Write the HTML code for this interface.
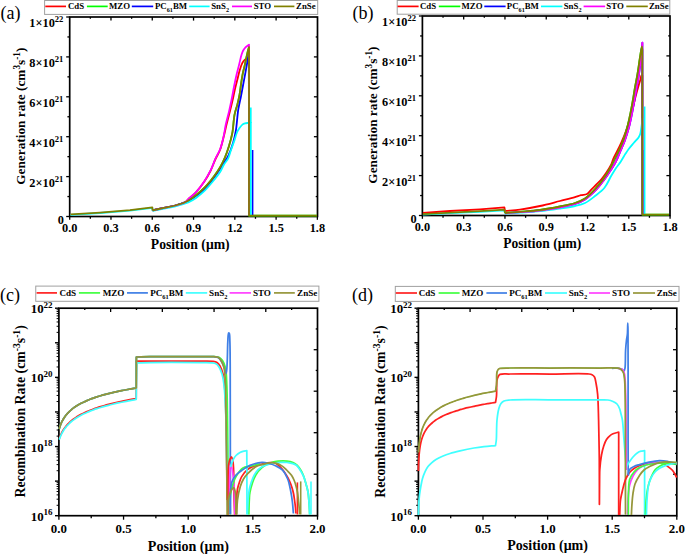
<!DOCTYPE html>
<html><head><meta charset="utf-8"><title>Generation and Recombination Rate</title>
<style>
html,body{margin:0;padding:0;background:#fff;width:685px;height:554px;overflow:hidden}
svg{display:block}
text{font-family:"Liberation Serif", serif}
</style></head><body>
<svg width="685" height="554" viewBox="0 0 685 554" font-family='"Liberation Serif", serif'>
<rect width="685" height="554" fill="#fff"/>
<line x1="69.70" y1="216.50" x2="69.70" y2="219.80" stroke="#000" stroke-width="1.3"/>
<line x1="90.34" y1="216.50" x2="90.34" y2="218.80" stroke="#000" stroke-width="1.3"/>
<line x1="90.34" y1="17.00" x2="90.34" y2="18.80" stroke="#000" stroke-width="1.3"/>
<line x1="110.98" y1="216.50" x2="110.98" y2="219.80" stroke="#000" stroke-width="1.3"/>
<line x1="110.98" y1="17.00" x2="110.98" y2="20.60" stroke="#000" stroke-width="1.3"/>
<line x1="131.62" y1="216.50" x2="131.62" y2="218.80" stroke="#000" stroke-width="1.3"/>
<line x1="131.62" y1="17.00" x2="131.62" y2="18.80" stroke="#000" stroke-width="1.3"/>
<line x1="152.26" y1="216.50" x2="152.26" y2="219.80" stroke="#000" stroke-width="1.3"/>
<line x1="152.26" y1="17.00" x2="152.26" y2="20.60" stroke="#000" stroke-width="1.3"/>
<line x1="172.90" y1="216.50" x2="172.90" y2="218.80" stroke="#000" stroke-width="1.3"/>
<line x1="172.90" y1="17.00" x2="172.90" y2="18.80" stroke="#000" stroke-width="1.3"/>
<line x1="193.54" y1="216.50" x2="193.54" y2="219.80" stroke="#000" stroke-width="1.3"/>
<line x1="193.54" y1="17.00" x2="193.54" y2="20.60" stroke="#000" stroke-width="1.3"/>
<line x1="214.18" y1="216.50" x2="214.18" y2="218.80" stroke="#000" stroke-width="1.3"/>
<line x1="214.18" y1="17.00" x2="214.18" y2="18.80" stroke="#000" stroke-width="1.3"/>
<line x1="234.82" y1="216.50" x2="234.82" y2="219.80" stroke="#000" stroke-width="1.3"/>
<line x1="234.82" y1="17.00" x2="234.82" y2="20.60" stroke="#000" stroke-width="1.3"/>
<line x1="255.46" y1="216.50" x2="255.46" y2="218.80" stroke="#000" stroke-width="1.3"/>
<line x1="255.46" y1="17.00" x2="255.46" y2="18.80" stroke="#000" stroke-width="1.3"/>
<line x1="276.10" y1="216.50" x2="276.10" y2="219.80" stroke="#000" stroke-width="1.3"/>
<line x1="276.10" y1="17.00" x2="276.10" y2="20.60" stroke="#000" stroke-width="1.3"/>
<line x1="296.74" y1="216.50" x2="296.74" y2="218.80" stroke="#000" stroke-width="1.3"/>
<line x1="296.74" y1="17.00" x2="296.74" y2="18.80" stroke="#000" stroke-width="1.3"/>
<line x1="317.38" y1="216.50" x2="317.38" y2="219.80" stroke="#000" stroke-width="1.3"/>
<line x1="69.70" y1="216.50" x2="66.20" y2="216.50" stroke="#000" stroke-width="1.3"/>
<line x1="69.70" y1="196.55" x2="67.40" y2="196.55" stroke="#000" stroke-width="1.3"/>
<line x1="317.50" y1="196.55" x2="315.70" y2="196.55" stroke="#000" stroke-width="1.3"/>
<line x1="69.70" y1="176.60" x2="66.20" y2="176.60" stroke="#000" stroke-width="1.3"/>
<line x1="317.50" y1="176.60" x2="313.90" y2="176.60" stroke="#000" stroke-width="1.3"/>
<line x1="69.70" y1="156.65" x2="67.40" y2="156.65" stroke="#000" stroke-width="1.3"/>
<line x1="317.50" y1="156.65" x2="315.70" y2="156.65" stroke="#000" stroke-width="1.3"/>
<line x1="69.70" y1="136.70" x2="66.20" y2="136.70" stroke="#000" stroke-width="1.3"/>
<line x1="317.50" y1="136.70" x2="313.90" y2="136.70" stroke="#000" stroke-width="1.3"/>
<line x1="69.70" y1="116.75" x2="67.40" y2="116.75" stroke="#000" stroke-width="1.3"/>
<line x1="317.50" y1="116.75" x2="315.70" y2="116.75" stroke="#000" stroke-width="1.3"/>
<line x1="69.70" y1="96.80" x2="66.20" y2="96.80" stroke="#000" stroke-width="1.3"/>
<line x1="317.50" y1="96.80" x2="313.90" y2="96.80" stroke="#000" stroke-width="1.3"/>
<line x1="69.70" y1="76.85" x2="67.40" y2="76.85" stroke="#000" stroke-width="1.3"/>
<line x1="317.50" y1="76.85" x2="315.70" y2="76.85" stroke="#000" stroke-width="1.3"/>
<line x1="69.70" y1="56.90" x2="66.20" y2="56.90" stroke="#000" stroke-width="1.3"/>
<line x1="317.50" y1="56.90" x2="313.90" y2="56.90" stroke="#000" stroke-width="1.3"/>
<line x1="69.70" y1="36.95" x2="67.40" y2="36.95" stroke="#000" stroke-width="1.3"/>
<line x1="317.50" y1="36.95" x2="315.70" y2="36.95" stroke="#000" stroke-width="1.3"/>
<line x1="69.70" y1="17.00" x2="66.20" y2="17.00" stroke="#000" stroke-width="1.3"/>
<rect x="69.70" y="17.00" width="247.80" height="199.50" fill="none" stroke="#000" stroke-width="1.7"/>
<text x="69.70" y="232.40" font-size="12.3" text-anchor="middle" font-weight="bold">0.0</text>
<text x="110.98" y="232.40" font-size="12.3" text-anchor="middle" font-weight="bold">0.3</text>
<text x="152.26" y="232.40" font-size="12.3" text-anchor="middle" font-weight="bold">0.6</text>
<text x="193.54" y="232.40" font-size="12.3" text-anchor="middle" font-weight="bold">0.9</text>
<text x="234.82" y="232.40" font-size="12.3" text-anchor="middle" font-weight="bold">1.2</text>
<text x="276.10" y="232.40" font-size="12.3" text-anchor="middle" font-weight="bold">1.5</text>
<text x="317.38" y="232.40" font-size="12.3" text-anchor="middle" font-weight="bold">1.8</text>
<text x="64.00" y="224.10" font-size="12.3" text-anchor="end" font-weight="bold">0</text>
<text x="63.40" y="186.60" font-size="12.3" text-anchor="end" font-weight="bold">2×10<tspan dy="-4.8" font-size="8.6">21</tspan></text>
<text x="63.40" y="146.70" font-size="12.3" text-anchor="end" font-weight="bold">4×10<tspan dy="-4.8" font-size="8.6">21</tspan></text>
<text x="63.40" y="106.80" font-size="12.3" text-anchor="end" font-weight="bold">6×10<tspan dy="-4.8" font-size="8.6">21</tspan></text>
<text x="63.40" y="66.90" font-size="12.3" text-anchor="end" font-weight="bold">8×10<tspan dy="-4.8" font-size="8.6">21</tspan></text>
<text x="63.40" y="27.00" font-size="12.3" text-anchor="end" font-weight="bold">1×10<tspan dy="-4.8" font-size="8.6">22</tspan></text>
<polyline points="70.50,214.80 100.00,213.00 130.00,210.60 152.30,207.80 152.60,210.80" fill="none" stroke="#00ffff" stroke-width="1.8" stroke-linejoin="round" stroke-linecap="butt"/>
<path d="M152.60,210.30 C156.40,209.50 160.21,208.70 164.00,207.90 C167.78,207.10 171.70,206.47 175.30,205.50 C178.68,204.59 182.73,203.62 185.00,202.30 C186.47,201.44 186.90,200.59 188.20,199.40 C190.27,197.50 193.64,194.78 196.20,192.00 C198.99,188.97 201.79,185.38 204.20,181.80 C206.62,178.21 208.80,174.34 210.70,170.50 C212.56,166.74 213.86,162.57 215.50,159.00 C216.97,155.79 218.72,153.31 220.00,150.00 C221.45,146.24 222.41,141.73 223.50,137.50 C224.61,133.20 225.52,128.78 226.60,124.40 C227.69,119.98 228.98,115.22 230.00,111.10 C230.88,107.53 231.61,104.56 232.40,101.10 C233.25,97.38 234.04,93.22 234.90,89.50 C235.71,86.04 236.56,82.82 237.40,79.50 C238.23,76.19 238.98,72.56 239.90,69.60 C240.67,67.13 241.42,64.69 242.40,62.90 C243.15,61.54 243.97,60.39 244.90,59.60 C245.67,58.95 246.64,58.56 247.40,58.30 C247.98,58.10 248.47,58.10 249.00,58.00 C249.00,110.50 249.00,163.00 249.00,215.50" fill="none" stroke="#ff0000" stroke-width="1.8" stroke-linejoin="round" stroke-linecap="butt"/>
<path d="M152.60,210.30 C156.40,209.50 160.21,208.70 164.00,207.90 C167.78,207.10 171.70,206.47 175.30,205.50 C178.68,204.59 182.00,203.69 185.00,202.30 C187.88,200.97 190.39,199.23 193.00,197.40 C195.73,195.48 198.54,193.20 201.00,191.00 C203.31,188.93 205.32,186.91 207.40,184.60 C209.62,182.13 211.81,179.44 213.90,176.60 C216.12,173.59 218.43,170.27 220.30,167.00 C222.11,163.84 223.58,160.70 225.00,157.30 C226.50,153.72 227.81,149.91 229.00,146.00 C230.25,141.89 231.41,137.91 232.30,133.20 C233.37,127.57 233.55,119.65 234.60,114.40 C235.38,110.51 236.56,107.74 237.40,104.40 C238.23,101.10 238.98,97.95 239.60,94.50 C240.27,90.78 240.62,86.53 241.20,82.80 C241.73,79.36 242.25,76.04 242.90,72.90 C243.50,70.00 244.21,67.60 244.90,64.60 C245.71,61.06 246.62,56.21 247.40,53.00 C247.96,50.70 248.47,49.07 249.00,47.10 C249.00,103.27 249.00,159.43 249.00,215.60 C271.67,215.60 294.33,215.60 317.00,215.60" fill="none" stroke="#00ff00" stroke-width="1.8" stroke-linejoin="round" stroke-linecap="butt"/>
<path d="M152.60,210.30 C156.40,209.50 160.21,208.70 164.00,207.90 C167.78,207.10 171.70,206.47 175.30,205.50 C178.68,204.59 181.98,203.60 185.00,202.30 C187.85,201.07 190.18,199.80 193.00,198.00 C196.50,195.77 200.92,192.70 204.20,189.60 C207.31,186.67 209.69,183.41 212.30,180.00 C215.06,176.40 217.68,172.47 220.30,168.50 C223.02,164.38 226.14,160.09 228.30,155.70 C230.36,151.51 231.83,147.05 233.10,142.80 C234.29,138.82 235.02,135.55 235.80,131.00 C236.85,124.90 237.32,115.47 238.30,109.40 C239.02,104.92 239.91,101.80 240.70,97.80 C241.54,93.52 242.37,88.93 243.20,84.50 C244.03,80.07 244.96,75.31 245.70,71.20 C246.34,67.66 246.86,64.46 247.40,61.30 C247.89,58.41 248.33,55.77 248.80,53.00 C248.93,106.00 249.07,159.00 249.20,212.00" fill="none" stroke="#0000ff" stroke-width="1.8" stroke-linejoin="round" stroke-linecap="butt"/>
<polyline points="252.60,150.00 252.60,215.60" fill="none" stroke="#0000ff" stroke-width="1.6" stroke-linejoin="round" stroke-linecap="butt"/>
<path d="M152.60,210.80 C156.40,210.07 160.21,209.33 164.00,208.60 C167.78,207.87 171.43,207.36 175.30,206.40 C179.48,205.36 184.52,204.09 188.20,202.50 C191.21,201.20 193.44,199.78 196.00,198.00 C198.78,196.06 201.59,193.71 204.20,191.20 C206.93,188.57 209.41,185.60 212.00,182.50 C214.78,179.16 218.20,175.12 220.30,171.80 C221.93,169.22 222.64,166.81 224.00,164.50 C225.32,162.25 227.15,160.44 228.30,158.10 C229.51,155.63 230.01,152.86 231.00,150.00 C232.12,146.74 233.63,142.74 234.70,139.60 C235.58,137.02 236.10,134.56 237.00,132.50 C237.74,130.79 238.56,129.35 239.50,128.00 C240.37,126.74 241.37,125.38 242.40,124.60 C243.23,123.97 244.07,123.68 245.00,123.40 C245.99,123.10 247.19,123.04 248.20,122.90 C249.11,122.78 249.93,122.70 250.80,122.60 C250.80,153.60 250.80,184.60 250.80,215.60" fill="none" stroke="#00ffff" stroke-width="1.8" stroke-linejoin="round" stroke-linecap="butt"/>
<polyline points="250.80,107.50 250.80,123.00" fill="none" stroke="#00ffff" stroke-width="1.7" stroke-linejoin="round" stroke-linecap="butt"/>
<path d="M152.60,210.30 C156.40,209.50 160.21,208.70 164.00,207.90 C167.78,207.10 171.70,206.47 175.30,205.50 C178.68,204.59 182.74,203.67 185.00,202.30 C186.49,201.40 186.88,200.45 188.20,199.20 C190.26,197.25 193.65,194.60 196.20,191.80 C199.00,188.73 201.78,185.02 204.20,181.40 C206.61,177.79 208.80,173.95 210.70,170.10 C212.56,166.32 213.86,162.09 215.50,158.50 C216.97,155.28 218.72,152.81 220.00,149.50 C221.45,145.74 222.53,141.20 223.50,137.00 C224.46,132.83 224.89,128.64 225.80,124.40 C226.74,120.01 228.11,115.39 229.10,111.10 C230.03,107.11 230.79,103.50 231.60,99.50 C232.46,95.22 233.24,90.49 234.10,86.20 C234.91,82.17 235.73,78.23 236.60,74.50 C237.40,71.05 238.27,67.91 239.10,64.60 C239.94,61.28 240.78,57.18 241.60,54.60 C242.14,52.91 242.51,51.76 243.20,50.50 C243.88,49.27 244.73,48.09 245.70,47.10 C246.66,46.12 247.90,45.43 249.00,44.60 C249.00,101.40 249.00,158.20 249.00,215.00" fill="none" stroke="#ff00ff" stroke-width="1.8" stroke-linejoin="round" stroke-linecap="butt"/>
<polyline points="70.50,214.40 100.00,212.60 130.00,210.20 152.30,207.30 152.60,210.30" fill="none" stroke="#808000" stroke-width="1.8" stroke-linejoin="round" stroke-linecap="butt"/>
<path d="M152.60,210.30 C156.40,209.50 160.21,208.70 164.00,207.90 C167.78,207.10 171.70,206.47 175.30,205.50 C178.68,204.59 182.00,203.69 185.00,202.30 C187.88,200.97 190.39,199.23 193.00,197.40 C195.73,195.48 198.54,193.20 201.00,191.00 C203.31,188.93 205.32,186.91 207.40,184.60 C209.62,182.13 211.81,179.44 213.90,176.60 C216.12,173.59 218.43,170.27 220.30,167.00 C222.11,163.84 223.58,160.70 225.00,157.30 C226.50,153.72 227.81,149.91 229.00,146.00 C230.25,141.89 231.41,137.91 232.30,133.20 C233.37,127.57 233.55,119.65 234.60,114.40 C235.38,110.51 236.56,107.74 237.40,104.40 C238.23,101.10 238.98,97.95 239.60,94.50 C240.27,90.78 240.62,86.53 241.20,82.80 C241.73,79.36 242.25,76.04 242.90,72.90 C243.50,70.00 244.21,67.60 244.90,64.60 C245.71,61.06 246.62,56.21 247.40,53.00 C247.96,50.70 248.47,49.07 249.00,47.10 C249.00,103.27 249.00,159.43 249.00,215.60 C271.67,215.60 294.33,215.60 317.00,215.60" fill="none" stroke="#808000" stroke-width="1.8" stroke-linejoin="round" stroke-linecap="butt"/>
<text x="0.50" y="19.00" font-size="18" text-anchor="start" font-weight="normal">(a)</text>
<text x="190.20" y="249.30" font-size="13.7" text-anchor="middle" font-weight="bold">Position (μm)</text>
<text transform="translate(25.10,116.20) rotate(-90)" x="0" y="0" font-size="13.3" text-anchor="middle" font-weight="bold">Generation rate (cm<tspan dy="-4.8" font-size="9.3">3</tspan><tspan dy="4.8">s</tspan><tspan dy="-4.8" font-size="9.3">-1</tspan><tspan dy="4.8">)</tspan></text>
<rect x="44.60" y="0.50" width="273.10" height="13.90" fill="#fff" stroke="#a0a0a0" stroke-width="1"/>
<line x1="45.30" y1="6.40" x2="66.00" y2="6.40" stroke="#ff0000" stroke-width="1.7"/>
<text x="67.90" y="9.30" font-size="8.8" text-anchor="start" font-weight="bold">CdS</text>
<line x1="86.90" y1="6.40" x2="107.70" y2="6.40" stroke="#00ff00" stroke-width="1.7"/>
<text x="109.00" y="9.30" font-size="8.8" text-anchor="start" font-weight="bold">MZO</text>
<line x1="131.80" y1="6.40" x2="153.20" y2="6.40" stroke="#0000ff" stroke-width="1.7"/>
<text x="155.00" y="9.30" font-size="8.8" text-anchor="start" font-weight="bold">PC<tspan dy="2.6" font-size="6.2">61</tspan><tspan dy="-2.6">BM</tspan></text>
<line x1="189.20" y1="6.40" x2="209.60" y2="6.40" stroke="#00ffff" stroke-width="1.7"/>
<text x="211.20" y="9.30" font-size="8.8" text-anchor="start" font-weight="bold">SnS<tspan dy="2.6" font-size="6.2">2</tspan></text>
<line x1="232.00" y1="6.40" x2="252.00" y2="6.40" stroke="#ff00ff" stroke-width="1.7"/>
<text x="253.70" y="9.30" font-size="8.8" text-anchor="start" font-weight="bold">STO</text>
<line x1="274.00" y1="6.40" x2="294.40" y2="6.40" stroke="#808000" stroke-width="1.7"/>
<text x="296.10" y="9.30" font-size="8.8" text-anchor="start" font-weight="bold">ZnSe</text>
<line x1="422.40" y1="215.50" x2="422.40" y2="218.80" stroke="#000" stroke-width="1.3"/>
<line x1="443.04" y1="215.50" x2="443.04" y2="217.80" stroke="#000" stroke-width="1.3"/>
<line x1="443.04" y1="16.00" x2="443.04" y2="17.80" stroke="#000" stroke-width="1.3"/>
<line x1="463.68" y1="215.50" x2="463.68" y2="218.80" stroke="#000" stroke-width="1.3"/>
<line x1="463.68" y1="16.00" x2="463.68" y2="19.60" stroke="#000" stroke-width="1.3"/>
<line x1="484.32" y1="215.50" x2="484.32" y2="217.80" stroke="#000" stroke-width="1.3"/>
<line x1="484.32" y1="16.00" x2="484.32" y2="17.80" stroke="#000" stroke-width="1.3"/>
<line x1="504.96" y1="215.50" x2="504.96" y2="218.80" stroke="#000" stroke-width="1.3"/>
<line x1="504.96" y1="16.00" x2="504.96" y2="19.60" stroke="#000" stroke-width="1.3"/>
<line x1="525.60" y1="215.50" x2="525.60" y2="217.80" stroke="#000" stroke-width="1.3"/>
<line x1="525.60" y1="16.00" x2="525.60" y2="17.80" stroke="#000" stroke-width="1.3"/>
<line x1="546.24" y1="215.50" x2="546.24" y2="218.80" stroke="#000" stroke-width="1.3"/>
<line x1="546.24" y1="16.00" x2="546.24" y2="19.60" stroke="#000" stroke-width="1.3"/>
<line x1="566.88" y1="215.50" x2="566.88" y2="217.80" stroke="#000" stroke-width="1.3"/>
<line x1="566.88" y1="16.00" x2="566.88" y2="17.80" stroke="#000" stroke-width="1.3"/>
<line x1="587.52" y1="215.50" x2="587.52" y2="218.80" stroke="#000" stroke-width="1.3"/>
<line x1="587.52" y1="16.00" x2="587.52" y2="19.60" stroke="#000" stroke-width="1.3"/>
<line x1="608.16" y1="215.50" x2="608.16" y2="217.80" stroke="#000" stroke-width="1.3"/>
<line x1="608.16" y1="16.00" x2="608.16" y2="17.80" stroke="#000" stroke-width="1.3"/>
<line x1="628.80" y1="215.50" x2="628.80" y2="218.80" stroke="#000" stroke-width="1.3"/>
<line x1="628.80" y1="16.00" x2="628.80" y2="19.60" stroke="#000" stroke-width="1.3"/>
<line x1="649.44" y1="215.50" x2="649.44" y2="217.80" stroke="#000" stroke-width="1.3"/>
<line x1="649.44" y1="16.00" x2="649.44" y2="17.80" stroke="#000" stroke-width="1.3"/>
<line x1="670.08" y1="215.50" x2="670.08" y2="218.80" stroke="#000" stroke-width="1.3"/>
<line x1="422.40" y1="215.50" x2="418.90" y2="215.50" stroke="#000" stroke-width="1.3"/>
<line x1="422.40" y1="195.55" x2="420.10" y2="195.55" stroke="#000" stroke-width="1.3"/>
<line x1="670.00" y1="195.55" x2="668.20" y2="195.55" stroke="#000" stroke-width="1.3"/>
<line x1="422.40" y1="175.60" x2="418.90" y2="175.60" stroke="#000" stroke-width="1.3"/>
<line x1="670.00" y1="175.60" x2="666.40" y2="175.60" stroke="#000" stroke-width="1.3"/>
<line x1="422.40" y1="155.65" x2="420.10" y2="155.65" stroke="#000" stroke-width="1.3"/>
<line x1="670.00" y1="155.65" x2="668.20" y2="155.65" stroke="#000" stroke-width="1.3"/>
<line x1="422.40" y1="135.70" x2="418.90" y2="135.70" stroke="#000" stroke-width="1.3"/>
<line x1="670.00" y1="135.70" x2="666.40" y2="135.70" stroke="#000" stroke-width="1.3"/>
<line x1="422.40" y1="115.75" x2="420.10" y2="115.75" stroke="#000" stroke-width="1.3"/>
<line x1="670.00" y1="115.75" x2="668.20" y2="115.75" stroke="#000" stroke-width="1.3"/>
<line x1="422.40" y1="95.80" x2="418.90" y2="95.80" stroke="#000" stroke-width="1.3"/>
<line x1="670.00" y1="95.80" x2="666.40" y2="95.80" stroke="#000" stroke-width="1.3"/>
<line x1="422.40" y1="75.85" x2="420.10" y2="75.85" stroke="#000" stroke-width="1.3"/>
<line x1="670.00" y1="75.85" x2="668.20" y2="75.85" stroke="#000" stroke-width="1.3"/>
<line x1="422.40" y1="55.90" x2="418.90" y2="55.90" stroke="#000" stroke-width="1.3"/>
<line x1="670.00" y1="55.90" x2="666.40" y2="55.90" stroke="#000" stroke-width="1.3"/>
<line x1="422.40" y1="35.95" x2="420.10" y2="35.95" stroke="#000" stroke-width="1.3"/>
<line x1="670.00" y1="35.95" x2="668.20" y2="35.95" stroke="#000" stroke-width="1.3"/>
<line x1="422.40" y1="16.00" x2="418.90" y2="16.00" stroke="#000" stroke-width="1.3"/>
<rect x="422.40" y="16.00" width="247.60" height="199.50" fill="none" stroke="#000" stroke-width="1.7"/>
<text x="422.40" y="231.40" font-size="12.3" text-anchor="middle" font-weight="bold">0.0</text>
<text x="463.68" y="231.40" font-size="12.3" text-anchor="middle" font-weight="bold">0.3</text>
<text x="504.96" y="231.40" font-size="12.3" text-anchor="middle" font-weight="bold">0.6</text>
<text x="546.24" y="231.40" font-size="12.3" text-anchor="middle" font-weight="bold">0.9</text>
<text x="587.52" y="231.40" font-size="12.3" text-anchor="middle" font-weight="bold">1.2</text>
<text x="628.80" y="231.40" font-size="12.3" text-anchor="middle" font-weight="bold">1.5</text>
<text x="670.08" y="231.40" font-size="12.3" text-anchor="middle" font-weight="bold">1.8</text>
<text x="416.70" y="223.10" font-size="12.3" text-anchor="end" font-weight="bold">0</text>
<text x="416.10" y="185.60" font-size="12.3" text-anchor="end" font-weight="bold">2×10<tspan dy="-4.8" font-size="8.6">21</tspan></text>
<text x="416.10" y="145.70" font-size="12.3" text-anchor="end" font-weight="bold">4×10<tspan dy="-4.8" font-size="8.6">21</tspan></text>
<text x="416.10" y="105.80" font-size="12.3" text-anchor="end" font-weight="bold">6×10<tspan dy="-4.8" font-size="8.6">21</tspan></text>
<text x="416.10" y="65.90" font-size="12.3" text-anchor="end" font-weight="bold">8×10<tspan dy="-4.8" font-size="8.6">21</tspan></text>
<text x="416.10" y="26.00" font-size="12.3" text-anchor="end" font-weight="bold">1×10<tspan dy="-4.8" font-size="8.6">22</tspan></text>
<polyline points="422.90,213.00 450.00,211.00 480.00,209.30 504.40,207.40 505.00,211.00" fill="none" stroke="#ff0000" stroke-width="1.8" stroke-linejoin="round" stroke-linecap="butt"/>
<path d="M505.00,211.00 C510.00,210.53 514.66,210.33 520.00,209.60 C526.20,208.75 533.36,207.43 540.00,206.00 C546.69,204.56 553.81,202.56 560.00,201.00 C565.36,199.65 571.14,198.33 575.00,197.20 C577.47,196.48 578.98,195.74 581.00,195.20 C582.98,194.67 585.27,194.95 587.00,194.00 C588.79,193.02 589.96,190.86 591.50,189.30 C593.09,187.70 594.78,186.12 596.40,184.50 C598.02,182.88 599.65,181.40 601.20,179.60 C602.89,177.64 604.52,175.43 606.10,173.10 C607.80,170.59 609.74,167.61 611.00,165.00 C612.08,162.77 612.44,160.68 613.40,158.50 C614.42,156.18 615.75,154.02 617.00,151.50 C618.44,148.59 620.04,145.30 621.50,142.00 C623.05,138.49 624.63,134.78 626.00,131.00 C627.41,127.11 628.63,123.01 629.80,119.00 C630.96,115.01 631.97,111.00 633.00,107.00 C634.03,103.00 635.02,98.71 636.00,95.00 C636.85,91.78 637.72,88.69 638.50,86.00 C639.14,83.79 639.78,81.87 640.30,80.00 C640.76,78.37 640.92,75.85 641.50,75.40 C641.74,75.22 642.03,75.40 642.30,75.40 C642.30,121.87 642.30,168.33 642.30,214.80" fill="none" stroke="#ff0000" stroke-width="1.8" stroke-linejoin="round" stroke-linecap="butt"/>
<path d="M505.00,213.00 C510.00,212.60 514.64,212.26 520.00,211.80 C526.19,211.27 533.35,210.88 540.00,210.00 C546.69,209.12 553.83,207.76 560.00,206.50 C565.38,205.40 570.57,204.50 575.00,203.00 C578.74,201.74 581.74,200.69 585.00,198.50 C588.90,195.88 593.23,191.15 596.40,187.70 C598.98,184.90 600.80,182.48 602.90,179.60 C605.14,176.54 607.49,173.12 609.40,169.80 C611.23,166.62 612.59,163.34 614.20,160.10 C615.82,156.84 617.59,153.58 619.10,150.30 C620.58,147.08 621.92,144.10 623.20,140.60 C624.65,136.62 626.01,132.08 627.20,127.60 C628.45,122.90 629.53,117.73 630.50,113.00 C631.41,108.55 632.16,104.27 632.90,100.00 C633.62,95.87 634.17,91.95 634.90,87.80 C635.66,83.46 636.61,79.19 637.40,74.50 C638.28,69.28 639.09,62.93 639.90,57.90 C640.58,53.68 641.51,46.29 641.90,46.30 C642.12,46.31 642.17,48.77 642.30,50.00 C642.30,104.87 642.30,159.73 642.30,214.60 C651.20,214.60 660.10,214.60 669.00,214.60" fill="none" stroke="#00ff00" stroke-width="1.8" stroke-linejoin="round" stroke-linecap="butt"/>
<path d="M505.00,213.30 C510.00,212.93 514.64,212.62 520.00,212.20 C526.19,211.71 533.35,211.28 540.00,210.50 C546.68,209.72 553.83,208.68 560.00,207.50 C565.38,206.47 570.57,205.50 575.00,204.00 C578.74,202.74 581.71,201.61 585.00,199.50 C588.86,197.01 593.11,192.94 596.40,189.50 C599.34,186.42 601.58,183.27 604.00,180.00 C606.44,176.70 608.92,173.03 611.00,169.80 C612.82,166.97 614.38,164.69 615.90,161.70 C617.64,158.28 619.16,153.95 620.70,150.30 C622.12,146.94 623.51,144.10 624.80,140.60 C626.27,136.62 627.70,132.09 628.90,127.60 C630.15,122.90 631.14,117.73 632.10,113.00 C633.00,108.55 633.74,104.25 634.50,100.00 C635.23,95.92 635.88,92.15 636.60,88.00 C637.38,83.51 638.32,78.68 639.00,74.00 C639.68,69.34 640.16,64.92 640.70,60.00 C641.30,54.54 641.83,48.47 642.40,42.70 C642.40,100.07 642.40,157.43 642.40,214.80" fill="none" stroke="#0000ff" stroke-width="1.8" stroke-linejoin="round" stroke-linecap="butt"/>
<polyline points="644.30,150.00 644.30,214.80" fill="none" stroke="#0000ff" stroke-width="1.4" stroke-linejoin="round" stroke-linecap="butt"/>
<polyline points="422.90,214.60 450.00,213.20 480.00,211.80 504.40,210.40 505.00,213.60" fill="none" stroke="#00ffff" stroke-width="1.8" stroke-linejoin="round" stroke-linecap="butt"/>
<path d="M505.00,213.60 C510.00,213.27 514.64,212.97 520.00,212.60 C526.19,212.18 533.34,211.88 540.00,211.20 C546.68,210.52 553.82,209.43 560.00,208.50 C565.37,207.69 570.53,207.04 575.00,206.00 C578.70,205.14 581.79,204.56 585.00,203.00 C588.47,201.32 591.77,198.53 595.00,196.00 C598.28,193.43 601.85,190.94 604.50,187.70 C607.20,184.39 608.97,179.76 611.00,176.30 C612.73,173.36 614.22,170.72 615.90,168.20 C617.46,165.88 619.14,164.02 620.70,161.70 C622.38,159.18 624.10,155.95 625.60,153.60 C626.78,151.75 627.65,150.36 628.90,148.70 C630.31,146.83 632.08,144.88 633.70,143.00 C635.32,141.12 637.48,139.09 638.60,137.40 C639.39,136.21 639.75,135.53 640.20,134.10 C640.94,131.76 641.38,127.30 641.80,124.40 C642.14,122.05 642.33,120.13 642.60,118.00" fill="none" stroke="#00ffff" stroke-width="1.8" stroke-linejoin="round" stroke-linecap="butt"/>
<polyline points="644.60,106.50 644.60,214.80" fill="none" stroke="#00ffff" stroke-width="1.7" stroke-linejoin="round" stroke-linecap="butt"/>
<path d="M505.00,213.30 C510.00,212.93 514.64,212.62 520.00,212.20 C526.19,211.71 533.35,211.28 540.00,210.50 C546.68,209.72 553.83,208.68 560.00,207.50 C565.38,206.47 570.57,205.50 575.00,204.00 C578.74,202.74 581.71,201.61 585.00,199.50 C588.86,197.01 593.11,192.94 596.40,189.50 C599.34,186.42 601.58,183.27 604.00,180.00 C606.44,176.70 608.92,173.03 611.00,169.80 C612.82,166.97 614.38,164.69 615.90,161.70 C617.64,158.28 619.16,153.95 620.70,150.30 C622.12,146.94 623.51,144.10 624.80,140.60 C626.27,136.62 627.70,132.09 628.90,127.60 C630.15,122.90 631.14,117.73 632.10,113.00 C633.00,108.55 633.74,104.25 634.50,100.00 C635.23,95.92 635.88,92.15 636.60,88.00 C637.38,83.51 638.32,78.68 639.00,74.00 C639.68,69.34 640.16,64.92 640.70,60.00 C641.30,54.54 641.83,48.47 642.40,42.70 C642.40,100.07 642.40,157.43 642.40,214.80" fill="none" stroke="#ff00ff" stroke-width="1.8" stroke-linejoin="round" stroke-linecap="butt"/>
<polyline points="422.90,214.20 450.00,212.60 480.00,211.20 504.40,209.60 505.00,213.00" fill="none" stroke="#808000" stroke-width="1.8" stroke-linejoin="round" stroke-linecap="butt"/>
<path d="M505.00,213.00 C510.00,212.60 514.64,212.26 520.00,211.80 C526.19,211.27 533.35,210.88 540.00,210.00 C546.69,209.12 553.83,207.76 560.00,206.50 C565.38,205.40 570.57,204.50 575.00,203.00 C578.74,201.74 581.74,200.69 585.00,198.50 C588.90,195.88 593.23,191.15 596.40,187.70 C598.98,184.90 600.80,182.48 602.90,179.60 C605.14,176.54 607.49,173.12 609.40,169.80 C611.23,166.62 612.59,163.34 614.20,160.10 C615.82,156.84 617.59,153.58 619.10,150.30 C620.58,147.08 621.92,144.10 623.20,140.60 C624.65,136.62 626.01,132.08 627.20,127.60 C628.45,122.90 629.53,117.73 630.50,113.00 C631.41,108.55 632.16,104.27 632.90,100.00 C633.62,95.87 634.17,91.95 634.90,87.80 C635.66,83.46 636.61,79.19 637.40,74.50 C638.28,69.28 639.09,62.93 639.90,57.90 C640.58,53.68 641.51,46.29 641.90,46.30 C642.12,46.31 642.17,48.77 642.30,50.00 C642.30,104.87 642.30,159.73 642.30,214.60 C651.20,214.60 660.10,214.60 669.00,214.60" fill="none" stroke="#808000" stroke-width="1.8" stroke-linejoin="round" stroke-linecap="butt"/>
<text x="352.40" y="19.00" font-size="18" text-anchor="start" font-weight="normal">(b)</text>
<text x="542.20" y="247.70" font-size="13.55" text-anchor="middle" font-weight="bold">Position (μm)</text>
<text transform="translate(377.00,115.10) rotate(-90)" x="0" y="0" font-size="13.3" text-anchor="middle" font-weight="bold">Generation rate (cm<tspan dy="-4.8" font-size="9.3">3</tspan><tspan dy="4.8">s</tspan><tspan dy="-4.8" font-size="9.3">-1</tspan><tspan dy="4.8">)</tspan></text>
<rect x="397.20" y="0.50" width="272.60" height="13.70" fill="#fff" stroke="#a0a0a0" stroke-width="1"/>
<line x1="397.60" y1="6.40" x2="418.60" y2="6.40" stroke="#ff0000" stroke-width="1.7"/>
<text x="419.90" y="9.30" font-size="8.8" text-anchor="start" font-weight="bold">CdS</text>
<line x1="438.80" y1="6.40" x2="460.30" y2="6.40" stroke="#00ff00" stroke-width="1.7"/>
<text x="461.50" y="9.30" font-size="8.8" text-anchor="start" font-weight="bold">MZO</text>
<line x1="484.30" y1="6.40" x2="505.60" y2="6.40" stroke="#0000ff" stroke-width="1.7"/>
<text x="506.80" y="9.30" font-size="8.8" text-anchor="start" font-weight="bold">PC<tspan dy="2.6" font-size="6.2">61</tspan><tspan dy="-2.6">BM</tspan></text>
<line x1="541.00" y1="6.40" x2="562.40" y2="6.40" stroke="#00ffff" stroke-width="1.7"/>
<text x="563.70" y="9.30" font-size="8.8" text-anchor="start" font-weight="bold">SnS<tspan dy="2.6" font-size="6.2">2</tspan></text>
<line x1="583.60" y1="6.40" x2="605.10" y2="6.40" stroke="#ff00ff" stroke-width="1.7"/>
<text x="606.30" y="9.30" font-size="8.8" text-anchor="start" font-weight="bold">STO</text>
<line x1="626.30" y1="6.40" x2="647.80" y2="6.40" stroke="#808000" stroke-width="1.7"/>
<text x="649.00" y="9.30" font-size="8.8" text-anchor="start" font-weight="bold">ZnSe</text>
<line x1="58.90" y1="515.70" x2="58.90" y2="519.70" stroke="#000" stroke-width="1.3"/>
<line x1="91.22" y1="515.70" x2="91.22" y2="518.20" stroke="#000" stroke-width="1.3"/>
<line x1="123.55" y1="515.70" x2="123.55" y2="519.70" stroke="#000" stroke-width="1.3"/>
<line x1="155.88" y1="515.70" x2="155.88" y2="518.20" stroke="#000" stroke-width="1.3"/>
<line x1="188.20" y1="515.70" x2="188.20" y2="519.70" stroke="#000" stroke-width="1.3"/>
<line x1="220.53" y1="515.70" x2="220.53" y2="518.20" stroke="#000" stroke-width="1.3"/>
<line x1="252.85" y1="515.70" x2="252.85" y2="519.70" stroke="#000" stroke-width="1.3"/>
<line x1="285.18" y1="515.70" x2="285.18" y2="518.20" stroke="#000" stroke-width="1.3"/>
<line x1="317.50" y1="515.70" x2="317.50" y2="519.70" stroke="#000" stroke-width="1.3"/>
<line x1="84.76" y1="308.20" x2="84.76" y2="310.00" stroke="#000" stroke-width="1.3"/>
<line x1="110.62" y1="308.20" x2="110.62" y2="312.00" stroke="#000" stroke-width="1.3"/>
<line x1="136.48" y1="308.20" x2="136.48" y2="310.00" stroke="#000" stroke-width="1.3"/>
<line x1="162.34" y1="308.20" x2="162.34" y2="312.00" stroke="#000" stroke-width="1.3"/>
<line x1="188.20" y1="308.20" x2="188.20" y2="310.00" stroke="#000" stroke-width="1.3"/>
<line x1="214.06" y1="308.20" x2="214.06" y2="312.00" stroke="#000" stroke-width="1.3"/>
<line x1="239.92" y1="308.20" x2="239.92" y2="310.00" stroke="#000" stroke-width="1.3"/>
<line x1="265.78" y1="308.20" x2="265.78" y2="312.00" stroke="#000" stroke-width="1.3"/>
<line x1="291.64" y1="308.20" x2="291.64" y2="310.00" stroke="#000" stroke-width="1.3"/>
<line x1="58.90" y1="515.70" x2="55.00" y2="515.70" stroke="#000" stroke-width="1.4"/>
<line x1="58.90" y1="505.29" x2="56.60" y2="505.29" stroke="#000" stroke-width="1.0"/>
<line x1="58.90" y1="499.20" x2="56.60" y2="499.20" stroke="#000" stroke-width="1.0"/>
<line x1="58.90" y1="494.88" x2="56.60" y2="494.88" stroke="#000" stroke-width="1.0"/>
<line x1="58.90" y1="491.53" x2="56.60" y2="491.53" stroke="#000" stroke-width="1.0"/>
<line x1="58.90" y1="488.79" x2="56.60" y2="488.79" stroke="#000" stroke-width="1.0"/>
<line x1="58.90" y1="486.47" x2="56.60" y2="486.47" stroke="#000" stroke-width="1.0"/>
<line x1="58.90" y1="484.47" x2="56.60" y2="484.47" stroke="#000" stroke-width="1.0"/>
<line x1="58.90" y1="482.70" x2="56.60" y2="482.70" stroke="#000" stroke-width="1.0"/>
<line x1="58.90" y1="481.12" x2="55.00" y2="481.12" stroke="#000" stroke-width="1.4"/>
<line x1="58.90" y1="470.71" x2="56.60" y2="470.71" stroke="#000" stroke-width="1.0"/>
<line x1="58.90" y1="464.62" x2="56.60" y2="464.62" stroke="#000" stroke-width="1.0"/>
<line x1="58.90" y1="460.30" x2="56.60" y2="460.30" stroke="#000" stroke-width="1.0"/>
<line x1="58.90" y1="456.94" x2="56.60" y2="456.94" stroke="#000" stroke-width="1.0"/>
<line x1="58.90" y1="454.21" x2="56.60" y2="454.21" stroke="#000" stroke-width="1.0"/>
<line x1="58.90" y1="451.89" x2="56.60" y2="451.89" stroke="#000" stroke-width="1.0"/>
<line x1="58.90" y1="449.88" x2="56.60" y2="449.88" stroke="#000" stroke-width="1.0"/>
<line x1="58.90" y1="448.12" x2="56.60" y2="448.12" stroke="#000" stroke-width="1.0"/>
<line x1="58.90" y1="446.53" x2="55.00" y2="446.53" stroke="#000" stroke-width="1.4"/>
<line x1="58.90" y1="436.12" x2="56.60" y2="436.12" stroke="#000" stroke-width="1.0"/>
<line x1="58.90" y1="430.03" x2="56.60" y2="430.03" stroke="#000" stroke-width="1.0"/>
<line x1="58.90" y1="425.71" x2="56.60" y2="425.71" stroke="#000" stroke-width="1.0"/>
<line x1="58.90" y1="422.36" x2="56.60" y2="422.36" stroke="#000" stroke-width="1.0"/>
<line x1="58.90" y1="419.62" x2="56.60" y2="419.62" stroke="#000" stroke-width="1.0"/>
<line x1="58.90" y1="417.31" x2="56.60" y2="417.31" stroke="#000" stroke-width="1.0"/>
<line x1="58.90" y1="415.30" x2="56.60" y2="415.30" stroke="#000" stroke-width="1.0"/>
<line x1="58.90" y1="413.53" x2="56.60" y2="413.53" stroke="#000" stroke-width="1.0"/>
<line x1="58.90" y1="411.95" x2="55.00" y2="411.95" stroke="#000" stroke-width="1.4"/>
<line x1="58.90" y1="401.54" x2="56.60" y2="401.54" stroke="#000" stroke-width="1.0"/>
<line x1="58.90" y1="395.45" x2="56.60" y2="395.45" stroke="#000" stroke-width="1.0"/>
<line x1="58.90" y1="391.13" x2="56.60" y2="391.13" stroke="#000" stroke-width="1.0"/>
<line x1="58.90" y1="387.78" x2="56.60" y2="387.78" stroke="#000" stroke-width="1.0"/>
<line x1="58.90" y1="385.04" x2="56.60" y2="385.04" stroke="#000" stroke-width="1.0"/>
<line x1="58.90" y1="382.72" x2="56.60" y2="382.72" stroke="#000" stroke-width="1.0"/>
<line x1="58.90" y1="380.72" x2="56.60" y2="380.72" stroke="#000" stroke-width="1.0"/>
<line x1="58.90" y1="378.95" x2="56.60" y2="378.95" stroke="#000" stroke-width="1.0"/>
<line x1="58.90" y1="377.37" x2="55.00" y2="377.37" stroke="#000" stroke-width="1.4"/>
<line x1="58.90" y1="366.96" x2="56.60" y2="366.96" stroke="#000" stroke-width="1.0"/>
<line x1="58.90" y1="360.87" x2="56.60" y2="360.87" stroke="#000" stroke-width="1.0"/>
<line x1="58.90" y1="356.55" x2="56.60" y2="356.55" stroke="#000" stroke-width="1.0"/>
<line x1="58.90" y1="353.19" x2="56.60" y2="353.19" stroke="#000" stroke-width="1.0"/>
<line x1="58.90" y1="350.46" x2="56.60" y2="350.46" stroke="#000" stroke-width="1.0"/>
<line x1="58.90" y1="348.14" x2="56.60" y2="348.14" stroke="#000" stroke-width="1.0"/>
<line x1="58.90" y1="346.13" x2="56.60" y2="346.13" stroke="#000" stroke-width="1.0"/>
<line x1="58.90" y1="344.37" x2="56.60" y2="344.37" stroke="#000" stroke-width="1.0"/>
<line x1="58.90" y1="342.78" x2="55.00" y2="342.78" stroke="#000" stroke-width="1.4"/>
<line x1="58.90" y1="332.37" x2="56.60" y2="332.37" stroke="#000" stroke-width="1.0"/>
<line x1="58.90" y1="326.28" x2="56.60" y2="326.28" stroke="#000" stroke-width="1.0"/>
<line x1="58.90" y1="321.96" x2="56.60" y2="321.96" stroke="#000" stroke-width="1.0"/>
<line x1="58.90" y1="318.61" x2="56.60" y2="318.61" stroke="#000" stroke-width="1.0"/>
<line x1="58.90" y1="315.87" x2="56.60" y2="315.87" stroke="#000" stroke-width="1.0"/>
<line x1="58.90" y1="313.56" x2="56.60" y2="313.56" stroke="#000" stroke-width="1.0"/>
<line x1="58.90" y1="311.55" x2="56.60" y2="311.55" stroke="#000" stroke-width="1.0"/>
<line x1="58.90" y1="309.78" x2="56.60" y2="309.78" stroke="#000" stroke-width="1.0"/>
<line x1="58.90" y1="308.20" x2="55.00" y2="308.20" stroke="#000" stroke-width="1.4"/>
<line x1="317.50" y1="328.95" x2="315.70" y2="328.95" stroke="#000" stroke-width="1.3"/>
<line x1="317.50" y1="349.70" x2="313.70" y2="349.70" stroke="#000" stroke-width="1.3"/>
<line x1="317.50" y1="370.45" x2="315.70" y2="370.45" stroke="#000" stroke-width="1.3"/>
<line x1="317.50" y1="391.20" x2="313.70" y2="391.20" stroke="#000" stroke-width="1.3"/>
<line x1="317.50" y1="411.95" x2="315.70" y2="411.95" stroke="#000" stroke-width="1.3"/>
<line x1="317.50" y1="432.70" x2="313.70" y2="432.70" stroke="#000" stroke-width="1.3"/>
<line x1="317.50" y1="453.45" x2="315.70" y2="453.45" stroke="#000" stroke-width="1.3"/>
<line x1="317.50" y1="474.20" x2="313.70" y2="474.20" stroke="#000" stroke-width="1.3"/>
<line x1="317.50" y1="494.95" x2="315.70" y2="494.95" stroke="#000" stroke-width="1.3"/>
<rect x="58.90" y="308.20" width="258.60" height="207.50" fill="none" stroke="#000" stroke-width="1.7"/>
<text x="58.90" y="532.90" font-size="12.9" text-anchor="middle" font-weight="bold">0.0</text>
<text x="123.55" y="532.90" font-size="12.9" text-anchor="middle" font-weight="bold">0.5</text>
<text x="188.20" y="532.90" font-size="12.9" text-anchor="middle" font-weight="bold">1.0</text>
<text x="252.85" y="532.90" font-size="12.9" text-anchor="middle" font-weight="bold">1.5</text>
<text x="317.50" y="532.90" font-size="12.9" text-anchor="middle" font-weight="bold">2.0</text>
<text x="52.60" y="520.70" font-size="12.9" text-anchor="end" font-weight="bold">10<tspan dy="-5.6" font-size="9">16</tspan></text>
<text x="52.60" y="451.53" font-size="12.9" text-anchor="end" font-weight="bold">10<tspan dy="-5.6" font-size="9">18</tspan></text>
<text x="52.60" y="382.37" font-size="12.9" text-anchor="end" font-weight="bold">10<tspan dy="-5.6" font-size="9">20</tspan></text>
<text x="52.60" y="313.20" font-size="12.9" text-anchor="end" font-weight="bold">10<tspan dy="-5.6" font-size="9">22</tspan></text>
<path d="M59.20,438.85 C59.23,438.76 59.25,438.70 59.29,438.59 C59.35,438.41 59.44,438.12 59.54,437.85 C59.67,437.51 59.81,437.10 59.97,436.69 C60.15,436.23 60.35,435.73 60.57,435.22 C60.80,434.67 61.06,434.10 61.34,433.53 C61.63,432.93 61.94,432.31 62.28,431.70 C62.63,431.07 63.00,430.44 63.39,429.81 C63.80,429.17 64.22,428.53 64.68,427.91 C65.14,427.27 65.62,426.64 66.13,426.02 C66.65,425.39 67.19,424.77 67.76,424.17 C68.33,423.56 68.93,422.96 69.55,422.38 C70.18,421.79 70.84,421.21 71.52,420.65 C72.21,420.07 72.92,419.52 73.66,418.98 C74.41,418.43 75.18,417.89 75.97,417.37 C76.77,416.84 77.60,416.33 78.45,415.83 C79.31,415.32 80.20,414.83 81.10,414.35 C82.02,413.86 82.97,413.39 83.93,412.93 C84.90,412.46 85.90,412.01 86.92,411.57 C87.96,411.11 89.01,410.68 90.09,410.25 C91.18,409.82 92.29,409.40 93.42,408.99 C94.57,408.57 95.74,408.17 96.93,407.78 C98.14,407.38 99.37,406.99 100.61,406.61 C101.88,406.22 103.16,405.84 104.46,405.48 C105.78,405.10 107.12,404.74 108.48,404.39 C109.86,404.03 111.26,403.68 112.67,403.34 C114.11,402.99 115.57,402.65 117.04,402.32 C118.53,401.98 120.04,401.65 121.57,401.33 C123.12,401.01 124.69,400.69 126.28,400.38 C127.89,400.06 129.51,399.76 131.15,399.45 C132.82,399.15 134.52,398.86 136.20,398.56 C136.27,386.10 136.33,373.65 136.40,361.20 C140.93,361.20 144.04,361.20 150.00,361.20 C161.43,361.20 188.74,361.11 200.00,361.20 C205.74,361.24 209.93,360.96 213.00,361.40 C214.74,361.65 215.85,361.77 217.00,362.50 C218.21,363.27 219.11,364.50 220.00,366.00 C221.21,368.04 222.22,370.74 223.00,374.00 C224.13,378.74 224.49,384.88 225.00,392.00 C225.73,402.32 225.90,417.17 226.20,430.00 C226.51,443.16 226.67,457.62 226.80,470.00 C226.92,480.72 226.93,490.00 227.00,500.00" fill="none" stroke="#ff2020" stroke-width="1.75" stroke-linejoin="round" stroke-linecap="butt"/>
<path d="M59.20,428.89 C59.23,428.79 59.25,428.72 59.29,428.59 C59.35,428.38 59.44,428.05 59.54,427.74 C59.66,427.35 59.81,426.89 59.97,426.42 C60.15,425.90 60.35,425.34 60.57,424.78 C60.80,424.17 61.06,423.54 61.34,422.92 C61.63,422.27 61.94,421.60 62.28,420.95 C62.63,420.28 63.00,419.60 63.39,418.94 C63.79,418.27 64.22,417.60 64.68,416.95 C65.13,416.29 65.62,415.64 66.13,415.00 C66.65,414.36 67.19,413.73 67.76,413.11 C68.33,412.49 68.93,411.89 69.55,411.30 C70.18,410.70 70.84,410.12 71.52,409.56 C72.21,408.98 72.92,408.43 73.66,407.89 C74.41,407.34 75.18,406.81 75.97,406.29 C76.77,405.77 77.60,405.26 78.45,404.77 C79.31,404.27 80.20,403.78 81.10,403.31 C82.02,402.83 82.97,402.37 83.93,401.92 C84.90,401.46 85.90,401.01 86.92,400.58 C87.96,400.14 89.01,399.72 90.09,399.30 C91.18,398.88 92.29,398.47 93.42,398.07 C94.57,397.67 95.74,397.27 96.93,396.89 C98.14,396.50 99.37,396.12 100.61,395.76 C101.88,395.38 103.16,395.02 104.46,394.66 C105.78,394.30 107.12,393.95 108.48,393.61 C109.86,393.26 111.26,392.92 112.67,392.59 C114.11,392.25 115.57,391.93 117.04,391.61 C118.53,391.28 120.04,390.97 121.57,390.66 C123.12,390.34 124.69,390.04 126.28,389.74 C127.89,389.44 129.51,389.14 131.15,388.85 C132.82,388.55 134.52,388.27 136.20,387.99 C136.27,377.66 136.33,367.33 136.40,357.00 C140.93,356.87 144.04,356.69 150.00,356.60 C161.42,356.43 188.20,356.56 200.00,356.60 C206.46,356.62 211.60,356.39 215.00,356.70 C216.77,356.86 217.79,356.81 219.00,357.40 C220.30,358.03 221.51,359.09 222.50,360.50 C223.80,362.35 224.79,364.93 225.50,368.00 C226.54,372.46 226.48,378.32 226.80,385.00 C227.26,394.58 227.31,407.30 227.50,420.00 C227.73,435.18 227.88,453.77 228.00,470.00 C228.11,485.39 228.13,500.00 228.20,515.00" fill="none" stroke="#40ff40" stroke-width="1.75" stroke-linejoin="round" stroke-linecap="butt"/>
<path d="M59.20,428.89 C59.23,428.79 59.25,428.72 59.29,428.59 C59.35,428.38 59.44,428.05 59.54,427.74 C59.66,427.35 59.81,426.89 59.97,426.42 C60.15,425.90 60.35,425.34 60.57,424.78 C60.80,424.17 61.06,423.54 61.34,422.92 C61.63,422.27 61.94,421.60 62.28,420.95 C62.63,420.28 63.00,419.60 63.39,418.94 C63.79,418.27 64.22,417.60 64.68,416.95 C65.13,416.29 65.62,415.64 66.13,415.00 C66.65,414.36 67.19,413.73 67.76,413.11 C68.33,412.49 68.93,411.89 69.55,411.30 C70.18,410.70 70.84,410.12 71.52,409.56 C72.21,408.98 72.92,408.43 73.66,407.89 C74.41,407.34 75.18,406.81 75.97,406.29 C76.77,405.77 77.60,405.26 78.45,404.77 C79.31,404.27 80.20,403.78 81.10,403.31 C82.02,402.83 82.97,402.37 83.93,401.92 C84.90,401.46 85.90,401.01 86.92,400.58 C87.96,400.14 89.01,399.72 90.09,399.30 C91.18,398.88 92.29,398.47 93.42,398.07 C94.57,397.67 95.74,397.27 96.93,396.89 C98.14,396.50 99.37,396.12 100.61,395.76 C101.88,395.38 103.16,395.02 104.46,394.66 C105.78,394.30 107.12,393.95 108.48,393.61 C109.86,393.26 111.26,392.92 112.67,392.59 C114.11,392.25 115.57,391.93 117.04,391.61 C118.53,391.28 120.04,390.97 121.57,390.66 C123.12,390.34 124.69,390.04 126.28,389.74 C127.89,389.44 129.51,389.14 131.15,388.85 C132.82,388.55 134.52,388.27 136.20,387.99 C136.27,377.66 136.33,367.33 136.40,357.00 C140.93,356.87 144.04,356.69 150.00,356.60 C161.42,356.43 188.47,356.56 200.00,356.60 C206.10,356.62 210.76,356.33 214.00,356.70 C215.75,356.90 216.85,356.94 218.00,357.60 C219.19,358.28 220.10,359.50 221.00,360.80 C222.08,362.36 222.96,364.47 223.80,366.50 C224.71,368.69 225.64,373.57 226.20,373.50 C226.90,373.41 226.94,366.36 227.20,362.00 C227.54,356.25 227.48,347.35 227.80,342.00 C228.01,338.41 227.96,333.29 228.60,333.00 C228.80,332.91 229.11,333.16 229.30,333.50 C229.91,334.58 229.75,338.47 229.90,342.00 C230.14,347.79 230.13,355.69 230.20,365.00 C230.31,379.40 230.27,399.20 230.30,420.00 C230.34,447.26 230.37,483.00 230.40,514.50" fill="none" stroke="#3f7fe6" stroke-width="1.75" stroke-linejoin="round" stroke-linecap="butt"/>
<path d="M59.20,439.75 C59.23,439.66 59.25,439.60 59.29,439.49 C59.35,439.31 59.44,439.02 59.54,438.75 C59.67,438.41 59.81,438.00 59.97,437.59 C60.15,437.13 60.35,436.63 60.57,436.12 C60.80,435.57 61.06,435.00 61.34,434.43 C61.63,433.83 61.94,433.21 62.28,432.60 C62.63,431.97 63.00,431.34 63.39,430.71 C63.80,430.07 64.22,429.43 64.68,428.81 C65.14,428.17 65.62,427.54 66.13,426.92 C66.65,426.29 67.19,425.67 67.76,425.07 C68.33,424.46 68.93,423.86 69.55,423.28 C70.18,422.69 70.84,422.11 71.52,421.55 C72.21,420.97 72.92,420.42 73.66,419.88 C74.41,419.33 75.18,418.79 75.97,418.27 C76.77,417.74 77.60,417.23 78.45,416.73 C79.31,416.22 80.20,415.73 81.10,415.25 C82.02,414.76 82.97,414.29 83.93,413.83 C84.90,413.36 85.90,412.91 86.92,412.47 C87.96,412.01 89.01,411.58 90.09,411.15 C91.18,410.72 92.29,410.30 93.42,409.89 C94.57,409.47 95.74,409.07 96.93,408.68 C98.14,408.28 99.37,407.89 100.61,407.51 C101.88,407.12 103.16,406.74 104.46,406.38 C105.78,406.00 107.12,405.64 108.48,405.29 C109.86,404.93 111.26,404.58 112.67,404.24 C114.11,403.89 115.57,403.55 117.04,403.22 C118.53,402.88 120.04,402.55 121.57,402.23 C123.12,401.91 124.69,401.59 126.28,401.28 C127.89,400.96 129.51,400.66 131.15,400.35 C132.82,400.05 134.52,399.76 136.20,399.46 C136.33,387.30 136.47,375.15 136.60,363.00 C141.07,362.87 144.11,362.69 150.00,362.60 C161.37,362.43 189.04,362.51 200.00,362.60 C205.37,362.64 209.09,362.42 212.00,362.80 C213.71,363.02 214.85,363.12 216.00,363.80 C217.19,364.50 218.10,365.63 219.00,367.00 C220.18,368.81 221.20,371.35 222.00,374.00 C222.97,377.21 223.46,380.57 224.00,385.00 C224.81,391.63 225.20,401.28 225.60,410.00 C226.03,419.54 226.20,430.00 226.40,440.00 C226.60,450.00 226.67,460.00 226.80,470.00" fill="none" stroke="#40ffff" stroke-width="1.75" stroke-linejoin="round" stroke-linecap="butt"/>
<path d="M59.20,428.89 C59.23,428.79 59.25,428.72 59.29,428.59 C59.35,428.38 59.44,428.05 59.54,427.74 C59.66,427.35 59.81,426.89 59.97,426.42 C60.15,425.90 60.35,425.34 60.57,424.78 C60.80,424.17 61.06,423.54 61.34,422.92 C61.63,422.27 61.94,421.60 62.28,420.95 C62.63,420.28 63.00,419.60 63.39,418.94 C63.79,418.27 64.22,417.60 64.68,416.95 C65.13,416.29 65.62,415.64 66.13,415.00 C66.65,414.36 67.19,413.73 67.76,413.11 C68.33,412.49 68.93,411.89 69.55,411.30 C70.18,410.70 70.84,410.12 71.52,409.56 C72.21,408.98 72.92,408.43 73.66,407.89 C74.41,407.34 75.18,406.81 75.97,406.29 C76.77,405.77 77.60,405.26 78.45,404.77 C79.31,404.27 80.20,403.78 81.10,403.31 C82.02,402.83 82.97,402.37 83.93,401.92 C84.90,401.46 85.90,401.01 86.92,400.58 C87.96,400.14 89.01,399.72 90.09,399.30 C91.18,398.88 92.29,398.47 93.42,398.07 C94.57,397.67 95.74,397.27 96.93,396.89 C98.14,396.50 99.37,396.12 100.61,395.76 C101.88,395.38 103.16,395.02 104.46,394.66 C105.78,394.30 107.12,393.95 108.48,393.61 C109.86,393.26 111.26,392.92 112.67,392.59 C114.11,392.25 115.57,391.93 117.04,391.61 C118.53,391.28 120.04,390.97 121.57,390.66 C123.12,390.34 124.69,390.04 126.28,389.74 C127.89,389.44 129.51,389.14 131.15,388.85 C132.82,388.55 134.52,388.27 136.20,387.99 C136.27,377.66 136.33,367.33 136.40,357.00 C140.93,356.87 144.04,356.69 150.00,356.60 C161.42,356.43 188.47,356.56 200.00,356.60 C206.10,356.62 210.75,356.49 214.00,356.70 C215.74,356.81 216.88,356.67 218.00,357.20 C219.06,357.70 219.79,358.53 220.60,359.70 C221.83,361.47 223.11,364.26 223.90,367.30 C224.97,371.41 225.05,376.40 225.40,382.40 C225.92,391.19 225.80,402.72 226.00,415.00 C226.26,430.95 226.60,452.59 226.80,470.00 C226.98,485.75 227.07,500.00 227.20,515.00" fill="none" stroke="#96963a" stroke-width="1.75" stroke-linejoin="round" stroke-linecap="butt"/>
<path d="M228.30,514.60 C228.30,503.07 228.21,489.08 228.30,480.00 C228.36,474.10 228.14,469.26 228.60,465.40 C228.91,462.81 229.30,460.48 230.00,459.00 C230.44,458.08 231.15,456.91 231.60,457.00 C232.24,457.13 232.67,460.12 233.00,462.00 C233.41,464.34 233.44,466.56 233.60,470.00 C233.88,476.23 233.79,488.33 234.00,496.30 C234.18,502.95 234.47,508.50 234.70,514.60" fill="none" stroke="#ff2020" stroke-width="1.75" stroke-linejoin="round" stroke-linecap="butt"/>
<path d="M236.00,514.60 C236.17,509.73 236.22,504.52 236.50,500.00 C236.75,496.07 236.90,492.23 237.50,489.00 C237.99,486.38 238.75,484.16 239.50,482.00 C240.17,480.06 240.61,478.43 241.70,476.60 C243.05,474.32 245.08,471.46 247.40,469.60 C249.76,467.71 253.16,466.34 255.80,465.40 C257.97,464.62 259.80,464.44 262.00,464.00 C264.49,463.50 267.52,462.63 270.00,462.60 C272.14,462.57 274.14,462.64 276.00,463.50 C278.08,464.46 280.00,466.59 281.70,468.50 C283.48,470.50 285.05,473.10 286.40,475.30 C287.60,477.25 288.57,478.98 289.50,481.00 C290.49,483.16 291.40,485.65 292.10,487.90 C292.74,489.98 293.19,491.93 293.60,494.00 C294.02,496.12 294.30,498.33 294.60,500.50 C294.90,502.66 295.18,504.83 295.40,507.00 C295.62,509.16 295.73,511.33 295.90,513.50" fill="none" stroke="#ff2020" stroke-width="1.75" stroke-linejoin="round" stroke-linecap="butt"/>
<polyline points="297.40,482.40 297.40,514.50" fill="none" stroke="#ff2020" stroke-width="1.6" stroke-linejoin="round" stroke-linecap="butt"/>
<path d="M229.50,514.60 C229.60,501.40 229.45,483.71 229.80,475.00 C229.97,470.71 229.87,465.53 230.50,465.40 C230.85,465.33 231.52,466.88 231.90,468.00 C232.48,469.73 232.67,472.45 233.00,475.00 C233.39,478.03 233.76,481.33 234.00,485.00 C234.30,489.49 234.37,495.03 234.50,500.00 C234.63,504.90 234.70,509.73 234.80,514.60" fill="none" stroke="#ff40ff" stroke-width="1.75" stroke-linejoin="round" stroke-linecap="butt"/>
<path d="M230.50,467.00 C231.33,464.67 231.98,462.02 233.00,460.00 C233.87,458.27 234.80,456.77 236.00,455.50 C237.15,454.28 238.72,453.22 240.00,452.50 C241.03,451.92 241.92,451.61 243.00,451.30 C244.18,450.96 245.53,450.83 246.80,450.60 C246.87,471.90 246.93,493.20 247.00,514.50" fill="none" stroke="#40ffff" stroke-width="1.75" stroke-linejoin="round" stroke-linecap="butt"/>
<path d="M248.80,514.60 C248.97,509.73 249.05,504.14 249.30,500.00 C249.49,496.93 249.34,495.12 250.00,492.00 C250.98,487.34 253.36,479.36 255.80,475.00 C257.59,471.79 259.59,469.52 262.00,467.50 C264.34,465.54 267.25,464.06 270.00,463.00 C272.60,462.00 275.24,461.52 278.00,461.20 C280.89,460.86 284.32,460.79 287.00,461.10 C289.22,461.36 291.26,461.84 293.00,462.60 C294.53,463.27 295.76,464.04 297.00,465.20 C298.46,466.56 299.91,468.70 301.00,470.50 C302.00,472.14 302.65,473.58 303.40,475.50 C304.35,477.93 305.22,481.20 306.00,484.00 C306.75,486.70 307.49,488.99 308.00,492.00 C308.64,495.79 308.91,501.00 309.20,505.00 C309.45,508.41 309.53,511.33 309.70,514.50" fill="none" stroke="#40ff40" stroke-width="1.75" stroke-linejoin="round" stroke-linecap="butt"/>
<path d="M247.40,514.60 C247.60,509.73 247.55,504.76 248.00,500.00 C248.43,495.40 248.77,490.97 250.00,486.50 C251.30,481.77 253.37,475.85 255.80,472.40 C257.60,469.85 259.65,468.23 262.00,466.80 C264.38,465.35 267.30,464.52 270.00,463.80 C272.63,463.10 275.25,462.72 278.00,462.50 C280.90,462.27 284.03,462.09 287.00,462.50 C290.03,462.91 293.42,463.14 296.00,465.00 C299.07,467.21 301.70,472.51 303.40,476.00 C304.75,478.78 305.23,481.32 306.00,484.00 C306.76,486.65 307.49,488.99 308.00,492.00 C308.64,495.79 308.91,501.00 309.20,505.00 C309.45,508.41 309.53,511.33 309.70,514.50" fill="none" stroke="#40ffff" stroke-width="1.75" stroke-linejoin="round" stroke-linecap="butt"/>
<polyline points="311.00,481.40 311.00,514.50" fill="none" stroke="#40ffff" stroke-width="1.6" stroke-linejoin="round" stroke-linecap="butt"/>
<path d="M230.20,514.60 C230.30,508.07 229.83,500.57 230.50,495.00 C231.01,490.78 231.97,487.27 233.00,484.00 C233.86,481.25 234.55,479.05 236.00,476.60 C237.71,473.71 240.36,469.69 243.00,468.00 C245.13,466.63 247.45,466.81 250.00,466.20 C253.03,465.48 256.67,464.73 260.00,464.00" fill="none" stroke="#40ff40" stroke-width="1.75" stroke-linejoin="round" stroke-linecap="butt"/>
<path d="M230.30,514.00 C230.40,506.00 230.09,495.84 230.60,490.00 C230.90,486.60 231.00,484.50 231.90,482.00 C232.80,479.50 234.21,477.04 236.00,475.00 C237.87,472.88 240.62,471.23 243.00,469.60 C245.29,468.04 247.26,466.54 250.00,465.40 C253.38,464.00 258.52,462.56 262.00,462.40 C264.63,462.28 266.69,462.91 269.00,463.50 C271.36,464.10 273.76,464.90 276.00,466.00 C278.30,467.12 280.73,468.25 282.60,470.20 C284.73,472.42 286.37,475.69 287.70,479.00 C289.21,482.75 290.00,487.67 290.80,491.70 C291.52,495.30 291.97,498.46 292.40,502.00 C292.85,505.72 293.07,509.67 293.40,513.50" fill="none" stroke="#3f7fe6" stroke-width="1.75" stroke-linejoin="round" stroke-linecap="butt"/>
<path d="M227.80,514.60 C227.97,509.73 227.67,504.11 228.30,500.00 C228.77,496.90 229.64,494.08 230.50,492.00 C231.10,490.55 231.75,489.11 232.50,488.50 C232.97,488.12 233.59,487.77 234.00,488.00 C234.78,488.43 235.06,491.05 235.40,493.50 C236.06,498.23 235.80,507.57 236.00,514.60" fill="none" stroke="#96963a" stroke-width="1.75" stroke-linejoin="round" stroke-linecap="butt"/>
<path d="M236.80,514.60 C237.03,509.73 236.90,504.75 237.50,500.00 C238.09,495.39 239.11,490.29 240.30,486.50 C241.21,483.58 242.23,481.20 243.50,479.00 C244.64,477.03 245.73,475.56 247.40,473.80 C249.57,471.51 253.08,468.35 255.80,466.80 C257.91,465.60 259.78,465.24 262.00,464.60 C264.48,463.88 267.51,462.99 270.00,462.80 C272.13,462.63 274.00,462.67 276.00,463.20 C278.20,463.78 280.70,465.10 282.60,466.40 C284.32,467.58 285.55,469.05 287.00,470.50 C288.52,472.01 290.30,473.63 291.50,475.30 C292.58,476.81 293.28,478.35 294.00,480.00 C294.75,481.71 295.34,483.46 295.90,485.40 C296.53,487.59 297.09,490.05 297.50,492.50 C297.93,495.08 298.11,497.88 298.40,500.50 C298.68,503.04 298.98,505.60 299.20,508.00 C299.40,510.22 299.53,512.27 299.70,514.40" fill="none" stroke="#96963a" stroke-width="1.75" stroke-linejoin="round" stroke-linecap="butt"/>
<polyline points="300.70,481.40 300.70,514.50" fill="none" stroke="#96963a" stroke-width="1.6" stroke-linejoin="round" stroke-linecap="butt"/>
<text x="0.00" y="301.00" font-size="18" text-anchor="start" font-weight="normal">(c)</text>
<text x="188.40" y="550.60" font-size="14.1" text-anchor="middle" font-weight="bold">Position (μm)</text>
<text transform="translate(24.90,411.40) rotate(-90)" x="0" y="0" font-size="13.8" text-anchor="middle" font-weight="bold">Recombination Rate (cm<tspan dy="-4.9" font-size="9.6">-3</tspan><tspan dy="4.9">s</tspan><tspan dy="-4.9" font-size="9.6">-1</tspan><tspan dy="4.9">)</tspan></text>
<rect x="35.75" y="286.10" width="283.15" height="15.20" fill="#fff" stroke="#a0a0a0" stroke-width="1"/>
<line x1="36.60" y1="292.90" x2="57.00" y2="292.90" stroke="#ff2020" stroke-width="1.7"/>
<text x="59.50" y="296.30" font-size="9.1" text-anchor="start" font-weight="bold">CdS</text>
<line x1="78.90" y1="292.90" x2="100.10" y2="292.90" stroke="#40ff40" stroke-width="1.7"/>
<text x="102.70" y="296.30" font-size="9.1" text-anchor="start" font-weight="bold">MZO</text>
<line x1="127.00" y1="292.90" x2="147.90" y2="292.90" stroke="#3f7fe6" stroke-width="1.7"/>
<text x="150.20" y="296.30" font-size="9.1" text-anchor="start" font-weight="bold">PC<tspan dy="2.6" font-size="6.4">61</tspan><tspan dy="-2.6">BM</tspan></text>
<line x1="185.80" y1="292.90" x2="207.20" y2="292.90" stroke="#40ffff" stroke-width="1.7"/>
<text x="209.10" y="296.30" font-size="9.1" text-anchor="start" font-weight="bold">SnS<tspan dy="2.6" font-size="6.4">2</tspan></text>
<line x1="229.60" y1="292.90" x2="251.00" y2="292.90" stroke="#ff40ff" stroke-width="1.7"/>
<text x="252.90" y="296.30" font-size="9.1" text-anchor="start" font-weight="bold">STO</text>
<line x1="274.00" y1="292.90" x2="294.80" y2="292.90" stroke="#96963a" stroke-width="1.7"/>
<text x="297.10" y="296.30" font-size="9.1" text-anchor="start" font-weight="bold">ZnSe</text>
<line x1="418.40" y1="515.70" x2="418.40" y2="519.70" stroke="#000" stroke-width="1.3"/>
<line x1="450.70" y1="515.70" x2="450.70" y2="518.20" stroke="#000" stroke-width="1.3"/>
<line x1="483.00" y1="515.70" x2="483.00" y2="519.70" stroke="#000" stroke-width="1.3"/>
<line x1="515.30" y1="515.70" x2="515.30" y2="518.20" stroke="#000" stroke-width="1.3"/>
<line x1="547.60" y1="515.70" x2="547.60" y2="519.70" stroke="#000" stroke-width="1.3"/>
<line x1="579.90" y1="515.70" x2="579.90" y2="518.20" stroke="#000" stroke-width="1.3"/>
<line x1="612.20" y1="515.70" x2="612.20" y2="519.70" stroke="#000" stroke-width="1.3"/>
<line x1="644.50" y1="515.70" x2="644.50" y2="518.20" stroke="#000" stroke-width="1.3"/>
<line x1="676.80" y1="515.70" x2="676.80" y2="519.70" stroke="#000" stroke-width="1.3"/>
<line x1="444.24" y1="308.20" x2="444.24" y2="310.00" stroke="#000" stroke-width="1.3"/>
<line x1="470.08" y1="308.20" x2="470.08" y2="312.00" stroke="#000" stroke-width="1.3"/>
<line x1="495.92" y1="308.20" x2="495.92" y2="310.00" stroke="#000" stroke-width="1.3"/>
<line x1="521.76" y1="308.20" x2="521.76" y2="312.00" stroke="#000" stroke-width="1.3"/>
<line x1="547.60" y1="308.20" x2="547.60" y2="310.00" stroke="#000" stroke-width="1.3"/>
<line x1="573.44" y1="308.20" x2="573.44" y2="312.00" stroke="#000" stroke-width="1.3"/>
<line x1="599.28" y1="308.20" x2="599.28" y2="310.00" stroke="#000" stroke-width="1.3"/>
<line x1="625.12" y1="308.20" x2="625.12" y2="312.00" stroke="#000" stroke-width="1.3"/>
<line x1="650.96" y1="308.20" x2="650.96" y2="310.00" stroke="#000" stroke-width="1.3"/>
<line x1="418.40" y1="515.70" x2="414.50" y2="515.70" stroke="#000" stroke-width="1.4"/>
<line x1="418.40" y1="505.29" x2="416.10" y2="505.29" stroke="#000" stroke-width="1.0"/>
<line x1="418.40" y1="499.20" x2="416.10" y2="499.20" stroke="#000" stroke-width="1.0"/>
<line x1="418.40" y1="494.88" x2="416.10" y2="494.88" stroke="#000" stroke-width="1.0"/>
<line x1="418.40" y1="491.53" x2="416.10" y2="491.53" stroke="#000" stroke-width="1.0"/>
<line x1="418.40" y1="488.79" x2="416.10" y2="488.79" stroke="#000" stroke-width="1.0"/>
<line x1="418.40" y1="486.47" x2="416.10" y2="486.47" stroke="#000" stroke-width="1.0"/>
<line x1="418.40" y1="484.47" x2="416.10" y2="484.47" stroke="#000" stroke-width="1.0"/>
<line x1="418.40" y1="482.70" x2="416.10" y2="482.70" stroke="#000" stroke-width="1.0"/>
<line x1="418.40" y1="481.12" x2="414.50" y2="481.12" stroke="#000" stroke-width="1.4"/>
<line x1="418.40" y1="470.71" x2="416.10" y2="470.71" stroke="#000" stroke-width="1.0"/>
<line x1="418.40" y1="464.62" x2="416.10" y2="464.62" stroke="#000" stroke-width="1.0"/>
<line x1="418.40" y1="460.30" x2="416.10" y2="460.30" stroke="#000" stroke-width="1.0"/>
<line x1="418.40" y1="456.94" x2="416.10" y2="456.94" stroke="#000" stroke-width="1.0"/>
<line x1="418.40" y1="454.21" x2="416.10" y2="454.21" stroke="#000" stroke-width="1.0"/>
<line x1="418.40" y1="451.89" x2="416.10" y2="451.89" stroke="#000" stroke-width="1.0"/>
<line x1="418.40" y1="449.88" x2="416.10" y2="449.88" stroke="#000" stroke-width="1.0"/>
<line x1="418.40" y1="448.12" x2="416.10" y2="448.12" stroke="#000" stroke-width="1.0"/>
<line x1="418.40" y1="446.53" x2="414.50" y2="446.53" stroke="#000" stroke-width="1.4"/>
<line x1="418.40" y1="436.12" x2="416.10" y2="436.12" stroke="#000" stroke-width="1.0"/>
<line x1="418.40" y1="430.03" x2="416.10" y2="430.03" stroke="#000" stroke-width="1.0"/>
<line x1="418.40" y1="425.71" x2="416.10" y2="425.71" stroke="#000" stroke-width="1.0"/>
<line x1="418.40" y1="422.36" x2="416.10" y2="422.36" stroke="#000" stroke-width="1.0"/>
<line x1="418.40" y1="419.62" x2="416.10" y2="419.62" stroke="#000" stroke-width="1.0"/>
<line x1="418.40" y1="417.31" x2="416.10" y2="417.31" stroke="#000" stroke-width="1.0"/>
<line x1="418.40" y1="415.30" x2="416.10" y2="415.30" stroke="#000" stroke-width="1.0"/>
<line x1="418.40" y1="413.53" x2="416.10" y2="413.53" stroke="#000" stroke-width="1.0"/>
<line x1="418.40" y1="411.95" x2="414.50" y2="411.95" stroke="#000" stroke-width="1.4"/>
<line x1="418.40" y1="401.54" x2="416.10" y2="401.54" stroke="#000" stroke-width="1.0"/>
<line x1="418.40" y1="395.45" x2="416.10" y2="395.45" stroke="#000" stroke-width="1.0"/>
<line x1="418.40" y1="391.13" x2="416.10" y2="391.13" stroke="#000" stroke-width="1.0"/>
<line x1="418.40" y1="387.78" x2="416.10" y2="387.78" stroke="#000" stroke-width="1.0"/>
<line x1="418.40" y1="385.04" x2="416.10" y2="385.04" stroke="#000" stroke-width="1.0"/>
<line x1="418.40" y1="382.72" x2="416.10" y2="382.72" stroke="#000" stroke-width="1.0"/>
<line x1="418.40" y1="380.72" x2="416.10" y2="380.72" stroke="#000" stroke-width="1.0"/>
<line x1="418.40" y1="378.95" x2="416.10" y2="378.95" stroke="#000" stroke-width="1.0"/>
<line x1="418.40" y1="377.37" x2="414.50" y2="377.37" stroke="#000" stroke-width="1.4"/>
<line x1="418.40" y1="366.96" x2="416.10" y2="366.96" stroke="#000" stroke-width="1.0"/>
<line x1="418.40" y1="360.87" x2="416.10" y2="360.87" stroke="#000" stroke-width="1.0"/>
<line x1="418.40" y1="356.55" x2="416.10" y2="356.55" stroke="#000" stroke-width="1.0"/>
<line x1="418.40" y1="353.19" x2="416.10" y2="353.19" stroke="#000" stroke-width="1.0"/>
<line x1="418.40" y1="350.46" x2="416.10" y2="350.46" stroke="#000" stroke-width="1.0"/>
<line x1="418.40" y1="348.14" x2="416.10" y2="348.14" stroke="#000" stroke-width="1.0"/>
<line x1="418.40" y1="346.13" x2="416.10" y2="346.13" stroke="#000" stroke-width="1.0"/>
<line x1="418.40" y1="344.37" x2="416.10" y2="344.37" stroke="#000" stroke-width="1.0"/>
<line x1="418.40" y1="342.78" x2="414.50" y2="342.78" stroke="#000" stroke-width="1.4"/>
<line x1="418.40" y1="332.37" x2="416.10" y2="332.37" stroke="#000" stroke-width="1.0"/>
<line x1="418.40" y1="326.28" x2="416.10" y2="326.28" stroke="#000" stroke-width="1.0"/>
<line x1="418.40" y1="321.96" x2="416.10" y2="321.96" stroke="#000" stroke-width="1.0"/>
<line x1="418.40" y1="318.61" x2="416.10" y2="318.61" stroke="#000" stroke-width="1.0"/>
<line x1="418.40" y1="315.87" x2="416.10" y2="315.87" stroke="#000" stroke-width="1.0"/>
<line x1="418.40" y1="313.56" x2="416.10" y2="313.56" stroke="#000" stroke-width="1.0"/>
<line x1="418.40" y1="311.55" x2="416.10" y2="311.55" stroke="#000" stroke-width="1.0"/>
<line x1="418.40" y1="309.78" x2="416.10" y2="309.78" stroke="#000" stroke-width="1.0"/>
<line x1="418.40" y1="308.20" x2="414.50" y2="308.20" stroke="#000" stroke-width="1.4"/>
<line x1="676.80" y1="328.95" x2="675.00" y2="328.95" stroke="#000" stroke-width="1.3"/>
<line x1="676.80" y1="349.70" x2="673.00" y2="349.70" stroke="#000" stroke-width="1.3"/>
<line x1="676.80" y1="370.45" x2="675.00" y2="370.45" stroke="#000" stroke-width="1.3"/>
<line x1="676.80" y1="391.20" x2="673.00" y2="391.20" stroke="#000" stroke-width="1.3"/>
<line x1="676.80" y1="411.95" x2="675.00" y2="411.95" stroke="#000" stroke-width="1.3"/>
<line x1="676.80" y1="432.70" x2="673.00" y2="432.70" stroke="#000" stroke-width="1.3"/>
<line x1="676.80" y1="453.45" x2="675.00" y2="453.45" stroke="#000" stroke-width="1.3"/>
<line x1="676.80" y1="474.20" x2="673.00" y2="474.20" stroke="#000" stroke-width="1.3"/>
<line x1="676.80" y1="494.95" x2="675.00" y2="494.95" stroke="#000" stroke-width="1.3"/>
<rect x="418.40" y="308.20" width="258.40" height="207.50" fill="none" stroke="#000" stroke-width="1.7"/>
<text x="418.40" y="532.90" font-size="12.9" text-anchor="middle" font-weight="bold">0.0</text>
<text x="483.00" y="532.90" font-size="12.9" text-anchor="middle" font-weight="bold">0.5</text>
<text x="547.60" y="532.90" font-size="12.9" text-anchor="middle" font-weight="bold">1.0</text>
<text x="612.20" y="532.90" font-size="12.9" text-anchor="middle" font-weight="bold">1.5</text>
<text x="676.80" y="532.90" font-size="12.9" text-anchor="middle" font-weight="bold">2.0</text>
<text x="412.10" y="520.70" font-size="12.9" text-anchor="end" font-weight="bold">10<tspan dy="-5.6" font-size="9">16</tspan></text>
<text x="412.10" y="451.53" font-size="12.9" text-anchor="end" font-weight="bold">10<tspan dy="-5.6" font-size="9">18</tspan></text>
<text x="412.10" y="382.37" font-size="12.9" text-anchor="end" font-weight="bold">10<tspan dy="-5.6" font-size="9">20</tspan></text>
<text x="412.10" y="313.20" font-size="12.9" text-anchor="end" font-weight="bold">10<tspan dy="-5.6" font-size="9">22</tspan></text>
<path d="M418.40,471.09 C418.42,470.38 418.43,469.82 418.45,468.97 C418.48,467.71 418.53,465.86 418.59,464.24 C418.66,462.55 418.73,460.73 418.83,459.04 C418.93,457.40 419.04,455.78 419.17,454.23 C419.30,452.77 419.44,451.36 419.60,449.99 C419.76,448.71 419.94,447.47 420.13,446.27 C420.32,445.14 420.53,444.04 420.76,442.98 C420.98,441.98 421.22,441.00 421.48,440.06 C421.74,439.15 422.01,438.27 422.30,437.42 C422.59,436.60 422.89,435.81 423.22,435.04 C423.54,434.29 423.87,433.56 424.23,432.86 C424.58,432.17 424.95,431.50 425.34,430.85 C425.72,430.21 426.12,429.60 426.54,428.99 C426.96,428.40 427.39,427.83 427.84,427.27 C428.29,426.71 428.76,426.18 429.24,425.66 C429.72,425.14 430.22,424.63 430.74,424.14 C431.25,423.65 431.78,423.18 432.33,422.72 C432.87,422.25 433.44,421.81 434.01,421.37 C434.59,420.93 435.19,420.51 435.80,420.09 C436.41,419.68 437.04,419.27 437.67,418.88 C438.32,418.49 438.98,418.10 439.65,417.73 C440.33,417.35 441.02,416.98 441.72,416.63 C442.43,416.26 443.16,415.91 443.89,415.57 C444.64,415.22 445.39,414.89 446.16,414.56 C446.93,414.23 447.72,413.91 448.52,413.59 C449.33,413.27 450.15,412.96 450.97,412.66 C451.82,412.35 452.67,412.05 453.53,411.76 C454.40,411.47 455.29,411.18 456.18,410.90 C457.08,410.61 458.00,410.33 458.93,410.06 C459.86,409.78 460.81,409.52 461.77,409.25 C462.74,408.99 463.72,408.73 464.71,408.47 C465.71,408.21 466.72,407.96 467.74,407.72 C468.78,407.47 469.82,407.22 470.88,406.98 C471.94,406.74 473.02,406.50 474.10,406.27 C475.20,406.03 476.31,405.80 477.43,405.58 C478.56,405.35 479.70,405.13 480.85,404.91 C482.01,404.68 483.19,404.47 484.37,404.25 C485.56,404.04 486.77,403.82 487.98,403.62 C489.21,403.41 490.45,403.20 491.69,403.00 C492.95,402.79 494.23,402.60 495.50,402.40 C495.83,400.27 496.26,398.62 496.50,396.00 C496.89,391.88 496.31,383.52 497.00,380.00 C497.36,378.18 497.88,376.99 498.50,376.00 C498.94,375.29 499.16,374.78 500.00,374.40 C501.79,373.58 505.55,374.09 510.00,374.00 C518.89,373.82 536.75,374.00 550.00,374.00 C563.08,374.00 583.37,373.26 589.00,374.00 C590.59,374.21 591.10,374.32 592.00,374.80 C592.94,375.30 593.86,375.96 594.50,377.00 C595.37,378.42 595.54,380.69 596.00,383.00 C596.61,386.10 597.19,389.54 597.60,394.00 C598.23,400.82 598.33,410.40 598.60,420.00 C598.93,431.90 599.16,446.33 599.30,460.00 C599.44,474.39 599.37,489.53 599.40,504.30 C599.47,496.20 599.51,486.43 599.60,480.00 C599.66,475.78 599.54,473.28 599.80,469.50 C600.10,465.05 600.72,459.28 601.50,455.00 C602.13,451.54 602.87,448.45 603.80,445.70 C604.58,443.39 605.39,441.23 606.50,439.50 C607.45,438.02 608.63,436.78 609.80,435.80 C610.82,434.94 611.79,434.35 613.00,433.80 C614.38,433.18 616.71,432.65 617.70,432.40 C618.15,432.29 618.37,432.27 618.70,432.20 C618.70,459.80 618.70,487.40 618.70,515.00" fill="none" stroke="#ff2020" stroke-width="1.75" stroke-linejoin="round" stroke-linecap="butt"/>
<path d="M612.00,368.30 C614.33,368.30 617.17,368.03 619.00,368.30 C620.22,368.48 621.15,368.72 622.00,369.20 C622.79,369.65 623.51,371.13 624.00,371.00 C624.54,370.86 624.74,369.45 625.00,368.00 C625.62,364.55 625.28,355.12 625.60,350.00 C625.84,346.18 626.15,342.91 626.50,340.00 C626.77,337.74 627.19,336.31 627.40,334.00 C627.69,330.89 627.69,323.00 627.80,323.00 C627.88,323.00 627.95,326.60 628.00,330.00 C628.14,339.08 628.08,362.57 628.10,380.00 C628.12,399.09 628.08,422.61 628.10,440.00 C628.12,453.38 628.17,463.67 628.20,475.50" fill="none" stroke="#3f7fe6" stroke-width="1.75" stroke-linejoin="round" stroke-linecap="butt"/>
<path d="M418.40,515.00 C418.50,511.67 418.52,508.33 418.70,505.00 C418.88,501.66 419.13,498.18 419.50,495.00 C419.84,492.07 420.30,489.37 420.80,486.60 C421.30,483.87 421.74,481.08 422.50,478.50 C423.23,476.03 424.20,473.51 425.20,471.40 C426.06,469.58 426.90,467.96 428.00,466.50 C429.05,465.11 430.29,463.95 431.60,462.80 C432.95,461.61 434.34,460.52 436.00,459.50 C437.91,458.33 440.23,457.28 442.50,456.30 C444.89,455.27 447.30,454.35 450.00,453.50 C453.07,452.53 456.38,451.75 460.00,450.90 C464.26,449.90 469.71,448.74 474.00,448.00 C477.60,447.38 480.54,446.99 484.00,446.60 C487.69,446.18 491.67,445.93 495.50,445.60 C495.77,443.73 496.08,442.45 496.30,440.00 C496.71,435.39 496.42,425.80 497.00,420.00 C497.45,415.48 498.10,411.00 499.00,408.00 C499.57,406.09 500.09,404.70 501.00,403.50 C501.81,402.43 502.73,401.58 504.00,401.00 C505.58,400.27 507.10,400.25 510.00,400.00 C517.43,399.37 535.92,399.84 550.00,399.80 C565.74,399.76 590.48,399.68 600.00,399.80 C603.81,399.85 605.67,399.63 608.00,400.00 C609.88,400.30 611.47,400.81 613.00,401.50 C614.46,402.16 615.91,402.84 617.00,404.00 C618.19,405.27 619.03,407.29 619.70,409.00 C620.34,410.63 620.57,412.25 621.00,414.00 C621.47,415.91 621.99,417.40 622.40,420.00 C623.13,424.70 623.50,433.81 624.00,440.00 C624.43,445.36 624.78,450.22 625.20,455.00 C625.58,459.38 626.00,463.40 626.40,467.60 C626.93,466.40 627.42,465.06 628.00,464.00 C628.50,463.10 628.95,462.52 629.60,461.60 C630.51,460.30 631.71,458.45 633.00,457.00 C634.36,455.48 636.10,453.69 637.60,452.70 C638.75,451.94 639.83,451.53 641.00,451.20 C642.16,450.87 643.40,450.87 644.60,450.70 C644.60,472.13 644.60,493.57 644.60,515.00" fill="none" stroke="#40ffff" stroke-width="1.75" stroke-linejoin="round" stroke-linecap="butt"/>
<path d="M618.00,368.30 C619.00,368.53 620.12,368.68 621.00,369.00 C621.75,369.27 622.46,369.40 623.00,370.00 C623.74,370.83 624.11,372.18 624.50,374.00 C625.25,377.52 625.26,383.83 625.50,390.00 C625.83,398.44 625.88,408.73 626.00,420.00 C626.15,434.55 626.13,453.33 626.20,470.00" fill="none" stroke="#ff40ff" stroke-width="1.75" stroke-linejoin="round" stroke-linecap="butt"/>
<path d="M418.50,452.21 C418.52,451.95 418.53,451.75 418.55,451.43 C418.58,450.90 418.64,450.09 418.69,449.33 C418.76,448.44 418.84,447.43 418.93,446.44 C419.03,445.39 419.14,444.29 419.27,443.21 C419.40,442.13 419.54,441.04 419.70,439.96 C419.86,438.91 420.04,437.86 420.23,436.84 C420.42,435.84 420.63,434.85 420.86,433.89 C421.08,432.96 421.32,432.04 421.58,431.15 C421.83,430.28 422.11,429.43 422.40,428.60 C422.68,427.79 422.99,427.00 423.31,426.22 C423.63,425.47 423.97,424.73 424.32,424.02 C424.67,423.31 425.04,422.62 425.43,421.95 C425.81,421.29 426.21,420.65 426.63,420.03 C427.05,419.40 427.48,418.80 427.93,418.21 C428.38,417.63 428.85,417.06 429.33,416.51 C429.81,415.96 430.31,415.42 430.82,414.90 C431.33,414.38 431.86,413.87 432.41,413.37 C432.95,412.88 433.52,412.40 434.09,411.93 C434.67,411.46 435.27,411.00 435.87,410.55 C436.49,410.10 437.11,409.67 437.75,409.24 C438.39,408.81 439.05,408.40 439.72,407.99 C440.40,407.58 441.09,407.18 441.79,406.79 C442.50,406.40 443.23,406.02 443.96,405.65 C444.70,405.27 445.46,404.90 446.22,404.54 C447.00,404.18 447.78,403.83 448.58,403.48 C449.39,403.13 450.20,402.80 451.03,402.46 C451.87,402.13 452.72,401.80 453.58,401.48 C454.46,401.16 455.34,400.84 456.23,400.53 C457.13,400.22 458.05,399.91 458.97,399.61 C459.91,399.31 460.86,399.02 461.81,398.73 C462.78,398.43 463.76,398.15 464.75,397.87 C465.75,397.58 466.76,397.31 467.78,397.03 C468.81,396.76 469.86,396.49 470.91,396.23 C471.97,395.96 473.05,395.70 474.13,395.44 C475.23,395.18 476.34,394.93 477.45,394.68 C478.58,394.43 479.72,394.18 480.87,393.94 C482.03,393.69 483.20,393.45 484.38,393.22 C485.58,392.98 486.78,392.74 487.99,392.51 C489.22,392.28 490.45,392.04 491.70,391.83 C492.96,391.61 494.23,391.41 495.50,391.20 C495.83,389.13 496.26,387.45 496.50,385.00 C496.85,381.47 496.27,374.70 497.00,372.00 C497.36,370.67 497.89,369.80 498.50,369.20 C498.94,368.76 499.24,368.60 500.00,368.40 C501.83,367.90 505.55,368.09 510.00,368.00 C518.89,367.82 535.92,368.00 550.00,368.00 C565.74,368.00 587.50,367.93 600.00,368.00 C607.50,368.04 614.56,367.47 618.00,368.20 C619.47,368.51 620.13,368.79 621.00,369.50 C622.00,370.31 622.91,371.55 623.50,373.00 C624.26,374.86 624.33,377.22 624.60,380.00 C625.00,384.05 625.06,388.66 625.20,395.00 C625.44,405.98 625.35,423.12 625.40,440.00 C625.46,461.72 625.47,489.67 625.50,514.50" fill="none" stroke="#40ff40" stroke-width="1.0" stroke-linejoin="round" stroke-linecap="butt"/>
<path d="M418.50,452.21 C418.52,451.95 418.53,451.75 418.55,451.43 C418.58,450.90 418.64,450.09 418.69,449.33 C418.76,448.44 418.84,447.43 418.93,446.44 C419.03,445.39 419.14,444.29 419.27,443.21 C419.40,442.13 419.54,441.04 419.70,439.96 C419.86,438.91 420.04,437.86 420.23,436.84 C420.42,435.84 420.63,434.85 420.86,433.89 C421.08,432.96 421.32,432.04 421.58,431.15 C421.83,430.28 422.11,429.43 422.40,428.60 C422.68,427.79 422.99,427.00 423.31,426.22 C423.63,425.47 423.97,424.73 424.32,424.02 C424.67,423.31 425.04,422.62 425.43,421.95 C425.81,421.29 426.21,420.65 426.63,420.03 C427.05,419.40 427.48,418.80 427.93,418.21 C428.38,417.63 428.85,417.06 429.33,416.51 C429.81,415.96 430.31,415.42 430.82,414.90 C431.33,414.38 431.86,413.87 432.41,413.37 C432.95,412.88 433.52,412.40 434.09,411.93 C434.67,411.46 435.27,411.00 435.87,410.55 C436.49,410.10 437.11,409.67 437.75,409.24 C438.39,408.81 439.05,408.40 439.72,407.99 C440.40,407.58 441.09,407.18 441.79,406.79 C442.50,406.40 443.23,406.02 443.96,405.65 C444.70,405.27 445.46,404.90 446.22,404.54 C447.00,404.18 447.78,403.83 448.58,403.48 C449.39,403.13 450.20,402.80 451.03,402.46 C451.87,402.13 452.72,401.80 453.58,401.48 C454.46,401.16 455.34,400.84 456.23,400.53 C457.13,400.22 458.05,399.91 458.97,399.61 C459.91,399.31 460.86,399.02 461.81,398.73 C462.78,398.43 463.76,398.15 464.75,397.87 C465.75,397.58 466.76,397.31 467.78,397.03 C468.81,396.76 469.86,396.49 470.91,396.23 C471.97,395.96 473.05,395.70 474.13,395.44 C475.23,395.18 476.34,394.93 477.45,394.68 C478.58,394.43 479.72,394.18 480.87,393.94 C482.03,393.69 483.20,393.45 484.38,393.22 C485.58,392.98 486.78,392.74 487.99,392.51 C489.22,392.28 490.45,392.04 491.70,391.83 C492.96,391.61 494.23,391.41 495.50,391.20 C495.83,389.13 496.26,387.45 496.50,385.00 C496.85,381.47 496.27,374.70 497.00,372.00 C497.36,370.67 497.89,369.80 498.50,369.20 C498.94,368.76 499.24,368.60 500.00,368.40 C501.83,367.90 505.55,368.09 510.00,368.00 C518.89,367.82 535.92,368.00 550.00,368.00 C565.74,368.00 587.50,367.93 600.00,368.00 C607.50,368.04 614.56,367.47 618.00,368.20 C619.47,368.51 620.13,368.79 621.00,369.50 C622.00,370.31 622.91,371.55 623.50,373.00 C624.26,374.86 624.33,377.22 624.60,380.00 C625.00,384.05 625.06,388.66 625.20,395.00 C625.44,405.98 625.35,423.12 625.40,440.00 C625.46,461.72 625.47,489.67 625.50,514.50" fill="none" stroke="#96963a" stroke-width="1.75" stroke-linejoin="round" stroke-linecap="butt"/>
<path d="M619.70,515.00 C619.97,510.00 619.91,504.55 620.50,500.00 C621.00,496.14 621.90,492.72 622.70,489.40 C623.42,486.43 624.09,483.47 625.00,481.00 C625.76,478.94 626.58,477.19 627.60,475.50 C628.59,473.87 629.67,472.31 631.00,471.00 C632.34,469.68 634.04,468.54 635.60,467.60 C637.04,466.73 638.43,466.14 640.00,465.50 C641.71,464.80 643.57,464.05 645.50,463.60 C647.55,463.12 649.76,462.97 652.00,462.80 C654.38,462.62 657.25,462.31 659.40,462.60 C661.14,462.83 662.47,463.27 664.00,464.00 C665.77,464.85 667.73,466.36 669.30,467.60 C670.69,468.70 671.87,469.58 673.00,471.00 C674.38,472.74 675.47,475.33 676.70,477.50" fill="none" stroke="#ff2020" stroke-width="1.75" stroke-linejoin="round" stroke-linecap="butt"/>
<path d="M627.60,515.00 C627.73,510.00 627.66,504.96 628.00,500.00 C628.33,495.09 628.61,489.68 629.60,485.40 C630.42,481.87 631.56,478.76 633.00,476.00 C634.29,473.54 635.82,471.21 637.60,469.50 C639.20,467.96 641.06,466.97 643.00,466.00 C645.01,464.99 647.03,464.16 649.50,463.60 C652.54,462.91 656.09,462.62 660.00,462.60 C664.92,462.57 671.13,463.53 676.70,464.00" fill="none" stroke="#ff40ff" stroke-width="1.75" stroke-linejoin="round" stroke-linecap="butt"/>
<path d="M628.30,515.00 C628.40,506.67 628.25,496.55 628.60,490.00 C628.83,485.75 628.59,482.61 629.60,479.50 C630.51,476.68 632.23,474.04 634.00,472.00 C635.59,470.16 637.50,468.77 639.50,467.60 C641.50,466.44 643.62,465.67 646.00,465.00 C648.72,464.24 651.91,463.83 655.00,463.50 C658.24,463.15 661.54,462.87 665.00,463.00 C668.75,463.15 672.80,464.00 676.70,464.50" fill="none" stroke="#40ff40" stroke-width="1.75" stroke-linejoin="round" stroke-linecap="butt"/>
<path d="M628.20,475.50 C628.67,473.50 628.56,471.02 629.60,469.50 C630.57,468.09 632.39,467.31 634.00,466.50 C635.68,465.66 637.45,465.22 639.50,464.60 C642.01,463.84 644.94,463.04 648.00,462.40 C651.51,461.67 655.86,460.69 659.40,460.60 C662.46,460.52 665.14,461.01 668.00,461.50 C670.91,462.00 673.80,462.90 676.70,463.60" fill="none" stroke="#3f7fe6" stroke-width="1.75" stroke-linejoin="round" stroke-linecap="butt"/>
<path d="M645.50,515.00 C645.73,510.00 645.81,504.56 646.20,500.00 C646.53,496.15 646.84,492.81 647.50,489.40 C648.13,486.15 648.79,483.15 650.00,480.00 C651.34,476.53 653.37,471.92 655.40,469.50 C656.82,467.81 658.34,466.98 660.00,466.00 C661.67,465.01 663.55,464.13 665.40,463.60 C667.21,463.08 669.12,462.97 671.00,462.80 C672.89,462.63 674.80,462.67 676.70,462.60" fill="none" stroke="#40ff40" stroke-width="1.75" stroke-linejoin="round" stroke-linecap="butt"/>
<path d="M646.40,515.00 C646.60,510.00 646.65,504.96 647.00,500.00 C647.35,495.09 647.63,489.41 648.50,485.40 C649.14,482.48 649.85,480.31 651.00,478.00 C652.15,475.68 653.76,473.23 655.40,471.50 C656.81,470.01 658.34,468.98 660.00,468.00 C661.67,467.01 663.56,466.27 665.40,465.60 C667.23,464.94 669.12,464.50 671.00,464.00 C672.89,463.50 674.80,463.07 676.70,462.60" fill="none" stroke="#40ffff" stroke-width="1.75" stroke-linejoin="round" stroke-linecap="butt"/>
<path d="M631.40,515.00 C631.57,511.67 631.65,508.45 631.90,505.00 C632.17,501.27 632.44,497.05 633.00,493.40 C633.51,490.09 633.92,486.98 635.00,484.00 C636.08,481.02 637.87,477.96 639.50,475.50 C640.90,473.39 642.28,471.50 644.00,470.00 C645.64,468.57 647.56,467.64 649.50,466.60 C651.54,465.50 653.72,464.36 656.00,463.60 C658.35,462.82 660.99,462.24 663.40,462.00 C665.65,461.78 667.79,462.00 670.00,462.10 C672.23,462.20 674.47,462.43 676.70,462.60" fill="none" stroke="#96963a" stroke-width="1.75" stroke-linejoin="round" stroke-linecap="butt"/>
<text x="352.00" y="301.00" font-size="18" text-anchor="start" font-weight="normal">(d)</text>
<text x="547.60" y="550.20" font-size="14.0" text-anchor="middle" font-weight="bold">Position (μm)</text>
<text transform="translate(384.90,411.60) rotate(-90)" x="0" y="0" font-size="13.8" text-anchor="middle" font-weight="bold">Recombination Rate (cm<tspan dy="-4.9" font-size="9.6">-3</tspan><tspan dy="4.9">s</tspan><tspan dy="-4.9" font-size="9.6">-1</tspan><tspan dy="4.9">)</tspan></text>
<rect x="395.30" y="286.40" width="283.70" height="15.00" fill="#fff" stroke="#a0a0a0" stroke-width="1"/>
<line x1="395.80" y1="293.00" x2="417.00" y2="293.00" stroke="#ff2020" stroke-width="1.7"/>
<text x="418.70" y="296.30" font-size="9.1" text-anchor="start" font-weight="bold">CdS</text>
<line x1="438.60" y1="293.00" x2="459.60" y2="293.00" stroke="#40ff40" stroke-width="1.7"/>
<text x="461.70" y="296.30" font-size="9.1" text-anchor="start" font-weight="bold">MZO</text>
<line x1="486.40" y1="293.00" x2="507.00" y2="293.00" stroke="#3f7fe6" stroke-width="1.7"/>
<text x="509.20" y="296.30" font-size="9.1" text-anchor="start" font-weight="bold">PC<tspan dy="2.6" font-size="6.4">61</tspan><tspan dy="-2.6">BM</tspan></text>
<line x1="545.00" y1="293.00" x2="567.00" y2="293.00" stroke="#40ffff" stroke-width="1.7"/>
<text x="568.70" y="296.30" font-size="9.1" text-anchor="start" font-weight="bold">SnS<tspan dy="2.6" font-size="6.4">2</tspan></text>
<line x1="589.00" y1="293.00" x2="610.00" y2="293.00" stroke="#ff40ff" stroke-width="1.7"/>
<text x="612.10" y="296.30" font-size="9.1" text-anchor="start" font-weight="bold">STO</text>
<line x1="633.00" y1="293.00" x2="655.00" y2="293.00" stroke="#96963a" stroke-width="1.7"/>
<text x="656.70" y="296.30" font-size="9.1" text-anchor="start" font-weight="bold">ZnSe</text>
</svg>
</body></html>
